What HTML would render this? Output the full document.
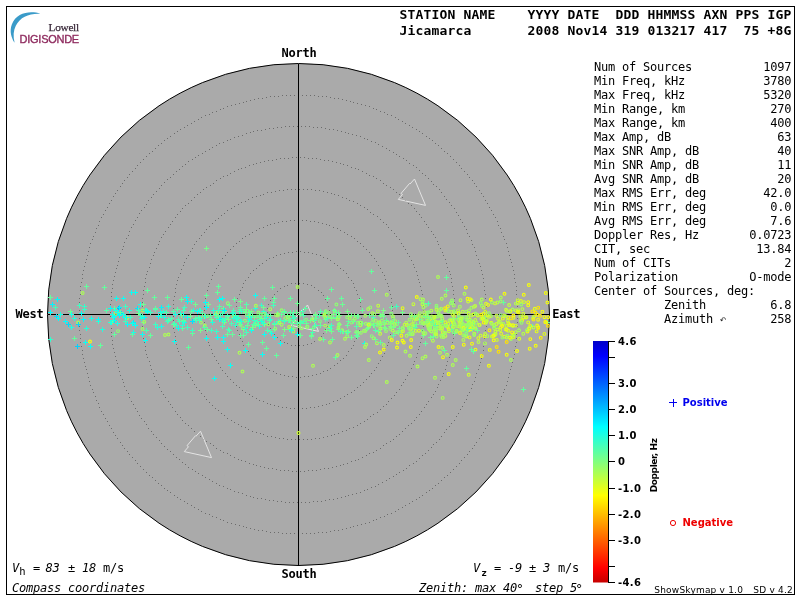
<!DOCTYPE html>
<html><head><meta charset="utf-8"><title>Skymap</title>
<style>
html,body{margin:0;padding:0;background:#fff;width:800px;height:600px;overflow:hidden}
svg{display:block;position:absolute;left:0;top:0;will-change:transform}
text{white-space:pre}
.hb{font-family:"DejaVu Sans Mono","Liberation Mono",monospace;font-weight:bold;font-size:13px;letter-spacing:0.1733px;fill:#000}
.cb{font-family:"DejaVu Sans Mono","Liberation Mono",monospace;font-weight:bold;font-size:12px;letter-spacing:-0.2246px;fill:#000}
.m{font-family:"DejaVu Sans Mono","Liberation Mono",monospace;font-size:12px;letter-spacing:-0.2246px;fill:#000}
.mi{font-family:"DejaVu Sans Mono","Liberation Mono",monospace;font-size:12px;letter-spacing:-0.2246px;fill:#000;font-style:italic}
.sb{font-family:"DejaVu Sans","Liberation Sans",sans-serif;font-weight:bold;font-size:10px;fill:#000}
.s{font-family:"DejaVu Sans","Liberation Sans",sans-serif;font-size:10px;fill:#000}
</style></head><body>
<svg width="800" height="600" viewBox="0 0 800 600" xml:space="preserve">
<defs>
<linearGradient id="cbar" gradientUnits="userSpaceOnUse" x1="0" y1="341" x2="0" y2="582">
<stop offset="0.0000" stop-color="#0000c8"/>
<stop offset="0.0622" stop-color="#0000ff"/>
<stop offset="0.3568" stop-color="#00ffff"/>
<stop offset="0.5000" stop-color="#80ff80"/>
<stop offset="0.6411" stop-color="#ffff00"/>
<stop offset="0.9419" stop-color="#ff0000"/>
<stop offset="1.0000" stop-color="#c80000"/>
</linearGradient>
</defs>
<rect x="0" y="0" width="800" height="600" fill="#fff"/>
<rect x="6.5" y="6.5" width="788" height="588" fill="none" stroke="#000" stroke-width="1" shape-rendering="crispEdges"/>
<path d="M40.4 13.7 C30 10.4 16.5 12.5 11.8 24.5 C9.3 31 11.3 38 14.6 42.8 C13.0 36 13.4 30.5 15.8 25.7 C20.3 16.8 29.3 13.1 40.4 13.7 Z" fill="#3a9bc9"/>
<text x="48.6" y="30.6" style="font-family:'Liberation Serif','DejaVu Serif',serif;font-size:11.3px;letter-spacing:-0.3px" fill="#3b2b3b" stroke="#3b2b3b" stroke-width="0.25">Lowell</text>
<text x="19.6" y="43" style="font-family:'Liberation Sans','DejaVu Sans',sans-serif;font-size:11px;letter-spacing:-0.27px" fill="#8e2a5e" stroke="#8e2a5e" stroke-width="0.35">DIGISONDE</text>
<text class="hb" x="399.6" y="19">STATION NAME    YYYY DATE  DDD HHMMSS AXN PPS IGP</text>
<text class="hb" x="399.6" y="35">Jicamarca       2008 Nov14 319 013217 417  75 +8G</text>
<circle cx="298.50" cy="314.50" r="251.00" fill="#aaaaaa" stroke="#000" stroke-width="1"/>
<path d="M329 314.5h1M329 310.5h1M328 306.5h1M327 302.5h1M325 299.5h1M323 295.5h1M321 292.5h1M318 290.5h1M314 287.5h1M311 285.5h1M307 284.5h1M303 283.5h1M299 283.5h1M295 283.5h1M291 283.5h1M287 285.5h1M284 286.5h1M280 288.5h1M277 291.5h1M274 294.5h1M272 297.5h1M270 300.5h1M268 304.5h1M267 308.5h1M267 312.5h1M267 316.5h1M267 320.5h1M268 324.5h1M270 328.5h1M272 331.5h1M274 334.5h1M277 337.5h1M280 340.5h1M284 342.5h1M287 343.5h1M291 345.5h1M295 345.5h1M299 345.5h1M303 345.5h1M307 344.5h1M311 343.5h1M314 341.5h1M318 338.5h1M321 336.5h1M323 333.5h1M325 329.5h1M327 326.5h1M328 322.5h1M329 318.5h1M361 314.5h1M361 310.5h1M360 306.5h1M360 302.5h1M359 298.5h1M357 294.5h1M356 290.5h1M354 287.5h1M353 283.5h1M351 280.5h1M348 277.5h1M346 273.5h1M343 270.5h1M340 268.5h1M337 265.5h1M334 263.5h1M330 260.5h1M327 258.5h1M323 257.5h1M320 255.5h1M316 254.5h1M312 253.5h1M308 252.5h1M304 252.5h1M300 251.5h1M296 251.5h1M292 252.5h1M288 252.5h1M284 253.5h1M280 254.5h1M276 255.5h1M273 257.5h1M269 258.5h1M266 260.5h1M262 263.5h1M259 265.5h1M256 268.5h1M253 270.5h1M250 273.5h1M248 277.5h1M245 280.5h1M243 283.5h1M242 287.5h1M240 290.5h1M239 294.5h1M237 298.5h1M236 302.5h1M236 306.5h1M235 310.5h1M235 314.5h1M235 318.5h1M236 322.5h1M236 326.5h1M237 330.5h1M239 334.5h1M240 338.5h1M242 341.5h1M243 345.5h1M245 348.5h1M248 351.5h1M250 355.5h1M253 358.5h1M256 360.5h1M259 363.5h1M262 365.5h1M266 368.5h1M269 370.5h1M273 371.5h1M276 373.5h1M280 374.5h1M284 375.5h1M288 376.5h1M292 376.5h1M296 377.5h1M300 377.5h1M304 376.5h1M308 376.5h1M312 375.5h1M316 374.5h1M320 373.5h1M323 371.5h1M327 370.5h1M330 368.5h1M334 365.5h1M337 363.5h1M340 360.5h1M343 358.5h1M346 355.5h1M348 351.5h1M351 348.5h1M353 345.5h1M354 341.5h1M356 338.5h1M357 334.5h1M359 330.5h1M360 326.5h1M360 322.5h1M361 318.5h1M392 314.5h1M392 310.5h1M392 306.5h1M391 302.5h1M391 298.5h1M390 294.5h1M389 290.5h1M388 286.5h1M387 283.5h1M385 279.5h1M384 275.5h1M382 272.5h1M380 268.5h1M378 265.5h1M376 261.5h1M374 258.5h1M371 255.5h1M369 252.5h1M366 249.5h1M363 246.5h1M360 243.5h1M357 241.5h1M354 238.5h1M351 236.5h1M347 234.5h1M344 232.5h1M340 230.5h1M337 228.5h1M333 227.5h1M329 225.5h1M326 224.5h1M322 223.5h1M318 222.5h1M314 221.5h1M310 221.5h1M306 220.5h1M302 220.5h1M298 220.5h1M294 220.5h1M290 220.5h1M286 221.5h1M282 221.5h1M278 222.5h1M274 223.5h1M270 224.5h1M267 225.5h1M263 227.5h1M259 228.5h1M256 230.5h1M252 232.5h1M249 234.5h1M245 236.5h1M242 238.5h1M239 241.5h1M236 243.5h1M233 246.5h1M230 249.5h1M227 252.5h1M225 255.5h1M222 258.5h1M220 261.5h1M218 265.5h1M216 268.5h1M214 272.5h1M212 275.5h1M211 279.5h1M209 283.5h1M208 286.5h1M207 290.5h1M206 294.5h1M205 298.5h1M205 302.5h1M204 306.5h1M204 310.5h1M204 314.5h1M204 318.5h1M204 322.5h1M205 326.5h1M205 330.5h1M206 334.5h1M207 338.5h1M208 342.5h1M209 345.5h1M211 349.5h1M212 353.5h1M214 356.5h1M216 360.5h1M218 363.5h1M220 367.5h1M222 370.5h1M225 373.5h1M227 376.5h1M230 379.5h1M233 382.5h1M236 385.5h1M239 387.5h1M242 390.5h1M245 392.5h1M249 394.5h1M252 396.5h1M256 398.5h1M259 400.5h1M263 401.5h1M267 403.5h1M270 404.5h1M274 405.5h1M278 406.5h1M282 407.5h1M286 407.5h1M290 408.5h1M294 408.5h1M298 408.5h1M302 408.5h1M306 408.5h1M310 407.5h1M314 407.5h1M318 406.5h1M322 405.5h1M326 404.5h1M329 403.5h1M333 401.5h1M337 400.5h1M340 398.5h1M344 396.5h1M347 394.5h1M351 392.5h1M354 390.5h1M357 387.5h1M360 385.5h1M363 382.5h1M366 379.5h1M369 376.5h1M371 373.5h1M374 370.5h1M376 367.5h1M378 363.5h1M380 360.5h1M382 356.5h1M384 353.5h1M385 349.5h1M387 345.5h1M388 342.5h1M389 338.5h1M390 334.5h1M391 330.5h1M391 326.5h1M392 322.5h1M392 318.5h1M423 314.5h1M423 310.5h1M423 306.5h1M423 302.5h1M422 298.5h1M422 294.5h1M421 290.5h1M420 286.5h1M419 282.5h1M418 279.5h1M417 275.5h1M416 271.5h1M414 267.5h1M413 264.5h1M411 260.5h1M409 256.5h1M407 253.5h1M405 249.5h1M403 246.5h1M401 243.5h1M399 239.5h1M396 236.5h1M394 233.5h1M391 230.5h1M388 227.5h1M386 224.5h1M383 222.5h1M380 219.5h1M377 216.5h1M373 214.5h1M370 212.5h1M367 209.5h1M364 207.5h1M360 205.5h1M357 203.5h1M353 201.5h1M349 200.5h1M346 198.5h1M342 197.5h1M338 195.5h1M334 194.5h1M331 193.5h1M327 192.5h1M323 191.5h1M319 190.5h1M315 190.5h1M311 189.5h1M307 189.5h1M303 189.5h1M299 189.5h1M295 189.5h1M291 189.5h1M287 189.5h1M283 190.5h1M279 190.5h1M275 191.5h1M271 192.5h1M267 192.5h1M263 194.5h1M260 195.5h1M256 196.5h1M252 197.5h1M248 199.5h1M245 201.5h1M241 202.5h1M238 204.5h1M234 206.5h1M231 208.5h1M227 210.5h1M224 213.5h1M221 215.5h1M218 218.5h1M215 220.5h1M212 223.5h1M209 226.5h1M206 229.5h1M204 232.5h1M201 235.5h1M199 238.5h1M196 241.5h1M194 244.5h1M192 248.5h1M190 251.5h1M188 255.5h1M186 258.5h1M184 262.5h1M183 265.5h1M181 269.5h1M180 273.5h1M178 277.5h1M177 280.5h1M176 284.5h1M175 288.5h1M175 292.5h1M174 296.5h1M173 300.5h1M173 304.5h1M173 308.5h1M173 312.5h1M173 316.5h1M173 320.5h1M173 324.5h1M173 328.5h1M174 332.5h1M175 336.5h1M175 340.5h1M176 344.5h1M177 348.5h1M178 351.5h1M180 355.5h1M181 359.5h1M183 363.5h1M184 366.5h1M186 370.5h1M188 373.5h1M190 377.5h1M192 380.5h1M194 384.5h1M196 387.5h1M199 390.5h1M201 393.5h1M204 396.5h1M206 399.5h1M209 402.5h1M212 405.5h1M215 408.5h1M218 410.5h1M221 413.5h1M224 415.5h1M227 418.5h1M231 420.5h1M234 422.5h1M238 424.5h1M241 426.5h1M245 427.5h1M248 429.5h1M252 431.5h1M256 432.5h1M260 433.5h1M263 434.5h1M267 436.5h1M271 436.5h1M275 437.5h1M279 438.5h1M283 438.5h1M287 439.5h1M291 439.5h1M295 439.5h1M299 439.5h1M303 439.5h1M307 439.5h1M311 439.5h1M315 438.5h1M319 438.5h1M323 437.5h1M327 436.5h1M331 435.5h1M334 434.5h1M338 433.5h1M342 431.5h1M346 430.5h1M349 428.5h1M353 427.5h1M357 425.5h1M360 423.5h1M364 421.5h1M367 419.5h1M370 416.5h1M373 414.5h1M377 412.5h1M380 409.5h1M383 406.5h1M386 404.5h1M388 401.5h1M391 398.5h1M394 395.5h1M396 392.5h1M399 389.5h1M401 385.5h1M403 382.5h1M405 379.5h1M407 375.5h1M409 372.5h1M411 368.5h1M413 364.5h1M414 361.5h1M416 357.5h1M417 353.5h1M418 349.5h1M419 346.5h1M420 342.5h1M421 338.5h1M422 334.5h1M422 330.5h1M423 326.5h1M423 322.5h1M423 318.5h1M455 314.5h1M455 310.5h1M454 306.5h1M454 302.5h1M454 298.5h1M453 294.5h1M453 290.5h1M452 286.5h1M451 282.5h1M451 278.5h1M450 274.5h1M449 271.5h1M447 267.5h1M446 263.5h1M445 259.5h1M443 255.5h1M442 252.5h1M440 248.5h1M438 244.5h1M437 241.5h1M435 237.5h1M433 234.5h1M431 231.5h1M428 227.5h1M426 224.5h1M424 221.5h1M421 217.5h1M419 214.5h1M416 211.5h1M414 208.5h1M411 205.5h1M408 203.5h1M405 200.5h1M402 197.5h1M399 194.5h1M396 192.5h1M393 189.5h1M390 187.5h1M386 185.5h1M383 183.5h1M380 180.5h1M376 178.5h1M373 176.5h1M369 175.5h1M366 173.5h1M362 171.5h1M358 169.5h1M355 168.5h1M351 167.5h1M347 165.5h1M343 164.5h1M340 163.5h1M336 162.5h1M332 161.5h1M328 160.5h1M324 160.5h1M320 159.5h1M316 158.5h1M312 158.5h1M308 158.5h1M304 157.5h1M300 157.5h1M296 157.5h1M292 157.5h1M288 158.5h1M284 158.5h1M280 158.5h1M276 159.5h1M272 160.5h1M268 160.5h1M264 161.5h1M260 162.5h1M256 163.5h1M253 164.5h1M249 165.5h1M245 167.5h1M241 168.5h1M238 169.5h1M234 171.5h1M230 173.5h1M227 175.5h1M223 176.5h1M220 178.5h1M216 180.5h1M213 183.5h1M210 185.5h1M206 187.5h1M203 189.5h1M200 192.5h1M197 194.5h1M194 197.5h1M191 200.5h1M188 203.5h1M185 205.5h1M182 208.5h1M180 211.5h1M177 214.5h1M175 217.5h1M172 221.5h1M170 224.5h1M168 227.5h1M165 231.5h1M163 234.5h1M161 237.5h1M159 241.5h1M158 244.5h1M156 248.5h1M154 252.5h1M153 255.5h1M151 259.5h1M150 263.5h1M149 267.5h1M147 271.5h1M146 274.5h1M145 278.5h1M145 282.5h1M144 286.5h1M143 290.5h1M143 294.5h1M142 298.5h1M142 302.5h1M142 306.5h1M141 310.5h1M141 314.5h1M141 318.5h1M142 322.5h1M142 326.5h1M142 330.5h1M143 334.5h1M143 338.5h1M144 342.5h1M145 346.5h1M145 350.5h1M146 354.5h1M147 357.5h1M149 361.5h1M150 365.5h1M151 369.5h1M153 373.5h1M154 376.5h1M156 380.5h1M158 384.5h1M159 387.5h1M161 391.5h1M163 394.5h1M165 397.5h1M168 401.5h1M170 404.5h1M172 407.5h1M175 411.5h1M177 414.5h1M180 417.5h1M182 420.5h1M185 423.5h1M188 425.5h1M191 428.5h1M194 431.5h1M197 434.5h1M200 436.5h1M203 439.5h1M206 441.5h1M210 443.5h1M213 445.5h1M216 448.5h1M220 450.5h1M223 452.5h1M227 453.5h1M230 455.5h1M234 457.5h1M238 459.5h1M241 460.5h1M245 461.5h1M249 463.5h1M253 464.5h1M256 465.5h1M260 466.5h1M264 467.5h1M268 468.5h1M272 468.5h1M276 469.5h1M280 470.5h1M284 470.5h1M288 470.5h1M292 471.5h1M296 471.5h1M300 471.5h1M304 471.5h1M308 470.5h1M312 470.5h1M316 470.5h1M320 469.5h1M324 468.5h1M328 468.5h1M332 467.5h1M336 466.5h1M340 465.5h1M343 464.5h1M347 463.5h1M351 461.5h1M355 460.5h1M358 459.5h1M362 457.5h1M366 455.5h1M369 453.5h1M373 452.5h1M376 450.5h1M380 448.5h1M383 445.5h1M386 443.5h1M390 441.5h1M393 439.5h1M396 436.5h1M399 434.5h1M402 431.5h1M405 428.5h1M408 425.5h1M411 423.5h1M414 420.5h1M416 417.5h1M419 414.5h1M421 411.5h1M424 407.5h1M426 404.5h1M428 401.5h1M431 397.5h1M433 394.5h1M435 391.5h1M437 387.5h1M438 384.5h1M440 380.5h1M442 376.5h1M443 373.5h1M445 369.5h1M446 365.5h1M447 361.5h1M449 357.5h1M450 354.5h1M451 350.5h1M451 346.5h1M452 342.5h1M453 338.5h1M453 334.5h1M454 330.5h1M454 326.5h1M454 322.5h1M455 318.5h1M486 314.5h1M486 310.5h1M486 306.5h1M486 302.5h1M485 298.5h1M485 294.5h1M484 290.5h1M484 286.5h1M483 282.5h1M483 278.5h1M482 274.5h1M481 270.5h1M480 266.5h1M479 263.5h1M478 259.5h1M476 255.5h1M475 251.5h1M474 247.5h1M472 244.5h1M471 240.5h1M469 236.5h1M467 233.5h1M466 229.5h1M464 226.5h1M462 222.5h1M460 219.5h1M458 215.5h1M456 212.5h1M454 208.5h1M451 205.5h1M449 202.5h1M446 199.5h1M444 196.5h1M441 192.5h1M439 189.5h1M436 186.5h1M433 184.5h1M431 181.5h1M428 178.5h1M425 175.5h1M422 173.5h1M419 170.5h1M416 167.5h1M413 165.5h1M409 163.5h1M406 160.5h1M403 158.5h1M399 156.5h1M396 154.5h1M393 152.5h1M389 150.5h1M386 148.5h1M382 146.5h1M378 144.5h1M375 142.5h1M371 141.5h1M367 139.5h1M364 138.5h1M360 136.5h1M356 135.5h1M352 134.5h1M348 133.5h1M345 132.5h1M341 131.5h1M337 130.5h1M333 129.5h1M329 129.5h1M325 128.5h1M321 127.5h1M317 127.5h1M313 127.5h1M309 126.5h1M305 126.5h1M301 126.5h1M297 126.5h1M293 126.5h1M289 126.5h1M285 126.5h1M281 127.5h1M277 127.5h1M273 128.5h1M269 128.5h1M265 129.5h1M261 130.5h1M257 130.5h1M253 131.5h1M250 132.5h1M246 133.5h1M242 135.5h1M238 136.5h1M234 137.5h1M230 139.5h1M227 140.5h1M223 142.5h1M219 143.5h1M216 145.5h1M212 147.5h1M209 149.5h1M205 151.5h1M202 153.5h1M198 155.5h1M195 157.5h1M192 159.5h1M188 161.5h1M185 164.5h1M182 166.5h1M179 169.5h1M176 171.5h1M173 174.5h1M170 177.5h1M167 179.5h1M164 182.5h1M161 185.5h1M159 188.5h1M156 191.5h1M153 194.5h1M151 197.5h1M148 200.5h1M146 204.5h1M144 207.5h1M141 210.5h1M139 213.5h1M137 217.5h1M135 220.5h1M133 224.5h1M131 227.5h1M129 231.5h1M128 235.5h1M126 238.5h1M124 242.5h1M123 246.5h1M122 249.5h1M120 253.5h1M119 257.5h1M118 261.5h1M117 265.5h1M116 268.5h1M115 272.5h1M114 276.5h1M113 280.5h1M112 284.5h1M112 288.5h1M111 292.5h1M111 296.5h1M111 300.5h1M110 304.5h1M110 308.5h1M110 312.5h1M110 316.5h1M110 320.5h1M110 324.5h1M111 328.5h1M111 332.5h1M111 336.5h1M112 340.5h1M112 344.5h1M113 348.5h1M114 352.5h1M115 356.5h1M116 360.5h1M117 363.5h1M118 367.5h1M119 371.5h1M120 375.5h1M122 379.5h1M123 382.5h1M124 386.5h1M126 390.5h1M128 393.5h1M129 397.5h1M131 401.5h1M133 404.5h1M135 408.5h1M137 411.5h1M139 415.5h1M141 418.5h1M144 421.5h1M146 424.5h1M148 428.5h1M151 431.5h1M153 434.5h1M156 437.5h1M159 440.5h1M161 443.5h1M164 446.5h1M167 449.5h1M170 451.5h1M173 454.5h1M176 457.5h1M179 459.5h1M182 462.5h1M185 464.5h1M188 467.5h1M192 469.5h1M195 471.5h1M198 473.5h1M202 475.5h1M205 477.5h1M209 479.5h1M212 481.5h1M216 483.5h1M219 485.5h1M223 486.5h1M227 488.5h1M230 489.5h1M234 491.5h1M238 492.5h1M242 493.5h1M246 495.5h1M250 496.5h1M253 497.5h1M257 498.5h1M261 498.5h1M265 499.5h1M269 500.5h1M273 500.5h1M277 501.5h1M281 501.5h1M285 502.5h1M289 502.5h1M293 502.5h1M297 502.5h1M301 502.5h1M305 502.5h1M309 502.5h1M313 501.5h1M317 501.5h1M321 501.5h1M325 500.5h1M329 499.5h1M333 499.5h1M337 498.5h1M341 497.5h1M345 496.5h1M348 495.5h1M352 494.5h1M356 493.5h1M360 492.5h1M364 490.5h1M367 489.5h1M371 487.5h1M375 486.5h1M378 484.5h1M382 482.5h1M386 480.5h1M389 478.5h1M393 476.5h1M396 474.5h1M399 472.5h1M403 470.5h1M406 468.5h1M409 465.5h1M413 463.5h1M416 461.5h1M419 458.5h1M422 455.5h1M425 453.5h1M428 450.5h1M431 447.5h1M433 444.5h1M436 442.5h1M439 439.5h1M441 436.5h1M444 432.5h1M446 429.5h1M449 426.5h1M451 423.5h1M454 420.5h1M456 416.5h1M458 413.5h1M460 409.5h1M462 406.5h1M464 402.5h1M466 399.5h1M467 395.5h1M469 392.5h1M471 388.5h1M472 384.5h1M474 381.5h1M475 377.5h1M476 373.5h1M478 369.5h1M479 365.5h1M480 362.5h1M481 358.5h1M482 354.5h1M483 350.5h1M483 346.5h1M484 342.5h1M484 338.5h1M485 334.5h1M485 330.5h1M486 326.5h1M486 322.5h1M486 318.5h1M517 314.5h1M517 310.5h1M517 306.5h1M517 302.5h1M517 298.5h1M516 294.5h1M516 290.5h1M516 286.5h1M515 282.5h1M514 278.5h1M514 274.5h1M513 270.5h1M512 266.5h1M511 262.5h1M510 259.5h1M509 255.5h1M508 251.5h1M507 247.5h1M506 243.5h1M504 239.5h1M503 236.5h1M501 232.5h1M500 228.5h1M498 225.5h1M497 221.5h1M495 217.5h1M493 214.5h1M491 210.5h1M489 207.5h1M487 203.5h1M485 200.5h1M483 196.5h1M481 193.5h1M479 190.5h1M476 186.5h1M474 183.5h1M472 180.5h1M469 177.5h1M467 174.5h1M464 171.5h1M461 168.5h1M459 165.5h1M456 162.5h1M453 159.5h1M450 156.5h1M447 153.5h1M444 151.5h1M441 148.5h1M438 145.5h1M435 143.5h1M432 140.5h1M429 138.5h1M426 136.5h1M422 133.5h1M419 131.5h1M416 129.5h1M412 127.5h1M409 125.5h1M405 123.5h1M402 121.5h1M398 119.5h1M395 117.5h1M391 115.5h1M387 114.5h1M384 112.5h1M380 111.5h1M376 109.5h1M373 108.5h1M369 106.5h1M365 105.5h1M361 104.5h1M357 103.5h1M353 102.5h1M350 101.5h1M346 100.5h1M342 99.5h1M338 98.5h1M334 98.5h1M330 97.5h1M326 96.5h1M322 96.5h1M318 96.5h1M314 95.5h1M310 95.5h1M306 95.5h1M302 95.5h1M298 95.5h1M294 95.5h1M290 95.5h1M286 95.5h1M282 95.5h1M278 96.5h1M274 96.5h1M270 96.5h1M266 97.5h1M262 98.5h1M258 98.5h1M254 99.5h1M250 100.5h1M246 101.5h1M243 102.5h1M239 103.5h1M235 104.5h1M231 105.5h1M227 106.5h1M223 108.5h1M220 109.5h1M216 111.5h1M212 112.5h1M209 114.5h1M205 115.5h1M201 117.5h1M198 119.5h1M194 121.5h1M191 123.5h1M187 125.5h1M184 127.5h1M180 129.5h1M177 131.5h1M174 133.5h1M170 136.5h1M167 138.5h1M164 140.5h1M161 143.5h1M158 145.5h1M155 148.5h1M152 151.5h1M149 153.5h1M146 156.5h1M143 159.5h1M140 162.5h1M137 165.5h1M135 168.5h1M132 171.5h1M129 174.5h1M127 177.5h1M124 180.5h1M122 183.5h1M120 186.5h1M117 190.5h1M115 193.5h1M113 196.5h1M111 200.5h1M109 203.5h1M107 207.5h1M105 210.5h1M103 214.5h1M101 217.5h1M99 221.5h1M98 225.5h1M96 228.5h1M95 232.5h1M93 236.5h1M92 239.5h1M90 243.5h1M89 247.5h1M88 251.5h1M87 255.5h1M86 259.5h1M85 262.5h1M84 266.5h1M83 270.5h1M82 274.5h1M82 278.5h1M81 282.5h1M80 286.5h1M80 290.5h1M80 294.5h1M79 298.5h1M79 302.5h1M79 306.5h1M79 310.5h1M79 314.5h1M79 318.5h1M79 322.5h1M79 326.5h1M79 330.5h1M80 334.5h1M80 338.5h1M80 342.5h1M81 346.5h1M82 350.5h1M82 354.5h1M83 358.5h1M84 362.5h1M85 366.5h1M86 369.5h1M87 373.5h1M88 377.5h1M89 381.5h1M90 385.5h1M92 389.5h1M93 392.5h1M95 396.5h1M96 400.5h1M98 403.5h1M99 407.5h1M101 411.5h1M103 414.5h1M105 418.5h1M107 421.5h1M109 425.5h1M111 428.5h1M113 432.5h1M115 435.5h1M117 438.5h1M120 442.5h1M122 445.5h1M124 448.5h1M127 451.5h1M129 454.5h1M132 457.5h1M135 460.5h1M137 463.5h1M140 466.5h1M143 469.5h1M146 472.5h1M149 475.5h1M152 477.5h1M155 480.5h1M158 483.5h1M161 485.5h1M164 488.5h1M167 490.5h1M170 492.5h1M174 495.5h1M177 497.5h1M180 499.5h1M184 501.5h1M187 503.5h1M191 505.5h1M194 507.5h1M198 509.5h1M201 511.5h1M205 513.5h1M209 514.5h1M212 516.5h1M216 517.5h1M220 519.5h1M223 520.5h1M227 522.5h1M231 523.5h1M235 524.5h1M239 525.5h1M243 526.5h1M246 527.5h1M250 528.5h1M254 529.5h1M258 530.5h1M262 530.5h1M266 531.5h1M270 532.5h1M274 532.5h1M278 532.5h1M282 533.5h1M286 533.5h1M290 533.5h1M294 533.5h1M298 533.5h1M302 533.5h1M306 533.5h1M310 533.5h1M314 533.5h1M318 532.5h1M322 532.5h1M326 532.5h1M330 531.5h1M334 530.5h1M338 530.5h1M342 529.5h1M346 528.5h1M350 527.5h1M353 526.5h1M357 525.5h1M361 524.5h1M365 523.5h1M369 522.5h1M373 520.5h1M376 519.5h1M380 517.5h1M384 516.5h1M387 514.5h1M391 513.5h1M395 511.5h1M398 509.5h1M402 507.5h1M405 505.5h1M409 503.5h1M412 501.5h1M416 499.5h1M419 497.5h1M422 495.5h1M426 492.5h1M429 490.5h1M432 488.5h1M435 485.5h1M438 483.5h1M441 480.5h1M444 477.5h1M447 475.5h1M450 472.5h1M453 469.5h1M456 466.5h1M459 463.5h1M461 460.5h1M464 457.5h1M467 454.5h1M469 451.5h1M472 448.5h1M474 445.5h1M476 442.5h1M479 438.5h1M481 435.5h1M483 432.5h1M485 428.5h1M487 425.5h1M489 421.5h1M491 418.5h1M493 414.5h1M495 411.5h1M497 407.5h1M498 403.5h1M500 400.5h1M501 396.5h1M503 392.5h1M504 389.5h1M506 385.5h1M507 381.5h1M508 377.5h1M509 373.5h1M510 369.5h1M511 366.5h1M512 362.5h1M513 358.5h1M514 354.5h1M514 350.5h1M515 346.5h1M516 342.5h1M516 338.5h1M516 334.5h1M517 330.5h1M517 326.5h1M517 322.5h1M517 318.5h1" stroke="#6c6c6c" stroke-width="1" fill="none" shape-rendering="crispEdges"/>
<path transform="translate(414.5 179.0)" d="M0 0 L-4.5 5 L-5 4.5 L-13.5 14.5 L-12 15.5 L-16.2 20.4 L11 26.4 Z" fill="none" stroke="#e4e4e4" stroke-width="1"/>
<path transform="translate(200.5 431.2)" d="M0 0 L-4.5 5 L-5 4.5 L-13.5 14.5 L-12 15.5 L-16.2 20.4 L11 26.4 Z" fill="none" stroke="#e4e4e4" stroke-width="1"/>
<path transform="translate(307.5 305.0)" d="M0 0 L-4.5 5 L-5 4.5 L-13.5 14.5 L-12 15.5 L-16.2 20.4 L11 26.4 Z" fill="none" stroke="#e4e4e4" stroke-width="1"/>
<g stroke="#000" stroke-width="1" shape-rendering="crispEdges"><line x1="298.5" y1="63.5" x2="298.5" y2="565.5"/><line x1="47.5" y1="314.5" x2="549.5" y2="314.5"/></g>
<g fill="none" stroke-width="1">
<circle cx="453.9" cy="311.3" r="1.4" stroke="#86ff7a" stroke-width="1.1"/>
<circle cx="403.8" cy="342.5" r="1.4" stroke="#f5ff0a" stroke-width="1.1"/>
<circle cx="227.8" cy="303.2" r="1.4" stroke="#91ff6f" stroke-width="1.1"/>
<circle cx="470.7" cy="329.6" r="1.4" stroke="#beff41" stroke-width="1.1"/>
<circle cx="370.2" cy="307.4" r="1.4" stroke="#93ff6d" stroke-width="1.1"/>
<path d="M137.0 313.5h5M139.5 311.0v5" stroke="#46ffba"/>
<path d="M286.0 320.5h5M288.5 318.0v5" stroke="#49ffb6"/>
<path d="M269.0 333.5h5M271.5 331.0v5" stroke="#0bfff4"/>
<circle cx="78.1" cy="322.5" r="1.4" stroke="#a4ff5c" stroke-width="1.1"/>
<circle cx="453.9" cy="322.6" r="1.4" stroke="#a4ff5c" stroke-width="1.1"/>
<circle cx="503.1" cy="323.7" r="1.4" stroke="#a6ff5a" stroke-width="1.1"/>
<circle cx="504.2" cy="336.6" r="1.4" stroke="#f0ff0f" stroke-width="1.1"/>
<path d="M191.0 310.5h5M193.5 308.0v5" stroke="#23ffdc"/>
<circle cx="485.6" cy="315.5" r="1.4" stroke="#bbff44" stroke-width="1.1"/>
<circle cx="473.6" cy="323.6" r="1.4" stroke="#bdff42" stroke-width="1.1"/>
<circle cx="515.7" cy="332.2" r="1.4" stroke="#baff45" stroke-width="1.1"/>
<circle cx="497.4" cy="302.5" r="1.4" stroke="#b2ff4d" stroke-width="1.1"/>
<path d="M355.0 316.5h5M357.5 314.0v5" stroke="#5bffa4"/>
<path d="M372.0 290.5h5M374.5 288.0v5" stroke="#63ff9d"/>
<circle cx="434.6" cy="334.3" r="1.4" stroke="#aaff56" stroke-width="1.1"/>
<path d="M365.0 328.5h5M367.5 326.0v5" stroke="#71ff8f"/>
<circle cx="463.4" cy="325.3" r="1.4" stroke="#b9ff47" stroke-width="1.1"/>
<circle cx="301.1" cy="321.9" r="1.4" stroke="#86ff7a" stroke-width="1.1"/>
<path d="M159.0 307.5h5M161.5 305.0v5" stroke="#00f3ff"/>
<path d="M421.0 303.5h5M423.5 301.0v5" stroke="#62ff9e"/>
<circle cx="449.4" cy="320.4" r="1.4" stroke="#b4ff4c" stroke-width="1.1"/>
<circle cx="442.2" cy="347.8" r="1.4" stroke="#acff54" stroke-width="1.1"/>
<circle cx="491.0" cy="316.0" r="1.4" stroke="#a6ff59" stroke-width="1.1"/>
<path d="M96.0 321.5h5M98.5 319.0v5" stroke="#32ffcd"/>
<path d="M158.0 312.5h5M160.5 310.0v5" stroke="#19ffe6"/>
<circle cx="452.0" cy="300.4" r="1.4" stroke="#96ff6a" stroke-width="1.1"/>
<path d="M275.0 313.5h5M277.5 311.0v5" stroke="#43ffbc"/>
<circle cx="456.5" cy="330.6" r="1.4" stroke="#baff45" stroke-width="1.1"/>
<circle cx="443.0" cy="357.2" r="1.4" stroke="#f5ff0a" stroke-width="1.1"/>
<circle cx="456.7" cy="331.5" r="1.4" stroke="#a1ff5e" stroke-width="1.1"/>
<circle cx="313.0" cy="365.8" r="1.4" stroke="#acff54" stroke-width="1.1"/>
<circle cx="452.8" cy="365.0" r="1.4" stroke="#acff54" stroke-width="1.1"/>
<path d="M119.0 313.5h5M121.5 311.0v5" stroke="#00daff"/>
<path d="M250.0 315.5h5M252.5 313.0v5" stroke="#65ff9b"/>
<path d="M336.0 329.5h5M338.5 327.0v5" stroke="#7bff85"/>
<circle cx="447.7" cy="326.9" r="1.4" stroke="#eaff16" stroke-width="1.1"/>
<path d="M456.0 318.5h5M458.5 316.0v5" stroke="#4affb5"/>
<path d="M441.0 334.5h5M443.5 332.0v5" stroke="#5fffa0"/>
<circle cx="278.2" cy="314.4" r="1.4" stroke="#99ff67" stroke-width="1.1"/>
<path d="M63.0 321.5h5M65.5 319.0v5" stroke="#00feff"/>
<circle cx="466.5" cy="336.5" r="1.4" stroke="#e0ff20" stroke-width="1.1"/>
<circle cx="360.3" cy="325.2" r="1.4" stroke="#b2ff4d" stroke-width="1.1"/>
<circle cx="467.5" cy="324.7" r="1.4" stroke="#bcff43" stroke-width="1.1"/>
<path d="M288.0 320.5h5M290.5 318.0v5" stroke="#56ffaa"/>
<circle cx="518.3" cy="310.1" r="1.4" stroke="#baff46" stroke-width="1.1"/>
<circle cx="435.5" cy="316.8" r="1.4" stroke="#c2ff3d" stroke-width="1.1"/>
<circle cx="485.6" cy="322.9" r="1.4" stroke="#c4ff3b" stroke-width="1.1"/>
<circle cx="450.9" cy="319.5" r="1.4" stroke="#9eff62" stroke-width="1.1"/>
<path d="M123.0 321.5h5M125.5 319.0v5" stroke="#3fffc0"/>
<path d="M329.0 318.5h5M331.5 316.0v5" stroke="#7cff84"/>
<circle cx="526.5" cy="317.2" r="1.4" stroke="#c6ff39" stroke-width="1.1"/>
<path d="M545.0 322.5h5M547.5 320.0v5" stroke="#63ff9d"/>
<path d="M394.0 306.5h5M396.5 304.0v5" stroke="#41ffbe"/>
<path d="M501.0 302.5h5M503.5 300.0v5" stroke="#61ff9f"/>
<path d="M221.0 308.5h5M223.5 306.0v5" stroke="#71ff8f"/>
<circle cx="488.0" cy="304.9" r="1.4" stroke="#f2ff0d" stroke-width="1.1"/>
<circle cx="546.1" cy="322.4" r="1.4" stroke="#f4ff0b" stroke-width="1.1"/>
<path d="M172.0 324.5h5M174.5 322.0v5" stroke="#74ff8c"/>
<circle cx="518.6" cy="312.3" r="1.4" stroke="#ffef00" stroke-width="1.1"/>
<circle cx="463.8" cy="344.7" r="1.4" stroke="#f5ff0a" stroke-width="1.1"/>
<path d="M165.0 297.5h5M167.5 295.0v5" stroke="#63ff9d"/>
<circle cx="377.0" cy="343.2" r="1.4" stroke="#acff54" stroke-width="1.1"/>
<circle cx="472.4" cy="326.1" r="1.4" stroke="#bfff40" stroke-width="1.1"/>
<circle cx="436.5" cy="305.7" r="1.4" stroke="#90ff70" stroke-width="1.1"/>
<circle cx="457.6" cy="326.4" r="1.4" stroke="#96ff69" stroke-width="1.1"/>
<path d="M236.0 317.5h5M238.5 315.0v5" stroke="#49ffb7"/>
<path d="M354.0 332.5h5M356.5 330.0v5" stroke="#76ff8a"/>
<path d="M327.0 328.5h5M329.5 326.0v5" stroke="#57ffa9"/>
<path d="M253.0 323.5h5M255.5 321.0v5" stroke="#66ff9a"/>
<path d="M341.0 331.5h5M343.5 329.0v5" stroke="#47ffb9"/>
<circle cx="401.4" cy="331.7" r="1.4" stroke="#97ff69" stroke-width="1.1"/>
<circle cx="462.7" cy="318.3" r="1.4" stroke="#98ff67" stroke-width="1.1"/>
<circle cx="519.0" cy="330.3" r="1.4" stroke="#a5ff5b" stroke-width="1.1"/>
<path d="M214.0 317.5h5M216.5 315.0v5" stroke="#4dffb2"/>
<circle cx="412.0" cy="324.3" r="1.4" stroke="#c7ff38" stroke-width="1.1"/>
<circle cx="502.4" cy="337.6" r="1.4" stroke="#95ff6b" stroke-width="1.1"/>
<circle cx="468.0" cy="329.3" r="1.4" stroke="#8dff73" stroke-width="1.1"/>
<path d="M50.0 304.5h5M52.5 302.0v5" stroke="#00f5ff"/>
<path d="M381.0 316.5h5M383.5 314.0v5" stroke="#6dff92"/>
<circle cx="534.1" cy="316.4" r="1.4" stroke="#dbff24" stroke-width="1.1"/>
<path d="M192.0 320.5h5M194.5 318.0v5" stroke="#24ffdb"/>
<path d="M228.0 365.5h5M230.5 363.0v5" stroke="#0bfff4"/>
<circle cx="422.4" cy="304.2" r="1.4" stroke="#c7ff39" stroke-width="1.1"/>
<path d="M79.0 313.5h5M81.5 311.0v5" stroke="#07fff8"/>
<path d="M182.0 322.5h5M184.5 320.0v5" stroke="#15ffea"/>
<circle cx="475.3" cy="319.9" r="1.4" stroke="#c5ff3a" stroke-width="1.1"/>
<circle cx="469.8" cy="325.2" r="1.4" stroke="#d2ff2d" stroke-width="1.1"/>
<path d="M468.0 322.5h5M470.5 320.0v5" stroke="#6eff92"/>
<path d="M220.0 326.5h5M222.5 324.0v5" stroke="#43ffbc"/>
<path d="M381.0 310.5h5M383.5 308.0v5" stroke="#7cff84"/>
<circle cx="288.5" cy="317.6" r="1.4" stroke="#b0ff4f" stroke-width="1.1"/>
<path d="M156.0 316.5h5M158.5 314.0v5" stroke="#01fffe"/>
<path d="M264.0 314.5h5M266.5 312.0v5" stroke="#41ffbe"/>
<path d="M186.0 347.5h5M188.5 345.0v5" stroke="#63ff9d"/>
<circle cx="406.2" cy="322.6" r="1.4" stroke="#afff50" stroke-width="1.1"/>
<path d="M237.0 311.5h5M239.5 309.0v5" stroke="#4dffb3"/>
<path d="M388.0 322.5h5M390.5 320.0v5" stroke="#6eff92"/>
<path d="M287.0 329.5h5M289.5 327.0v5" stroke="#6aff96"/>
<path d="M54.0 316.5h5M56.5 314.0v5" stroke="#00dfff"/>
<circle cx="417.5" cy="366.5" r="1.4" stroke="#acff54" stroke-width="1.1"/>
<circle cx="440.5" cy="326.5" r="1.4" stroke="#daff25" stroke-width="1.1"/>
<circle cx="277.8" cy="314.1" r="1.4" stroke="#9dff63" stroke-width="1.1"/>
<circle cx="454.2" cy="324.3" r="1.4" stroke="#c7ff39" stroke-width="1.1"/>
<circle cx="483.7" cy="319.6" r="1.4" stroke="#dfff20" stroke-width="1.1"/>
<circle cx="468.1" cy="301.5" r="1.4" stroke="#c8ff38" stroke-width="1.1"/>
<circle cx="434.8" cy="321.5" r="1.4" stroke="#b4ff4b" stroke-width="1.1"/>
<circle cx="389.8" cy="337.6" r="1.4" stroke="#aeff51" stroke-width="1.1"/>
<path d="M352.0 315.5h5M354.5 313.0v5" stroke="#7fff81"/>
<path d="M323.0 312.5h5M325.5 310.0v5" stroke="#5fffa1"/>
<circle cx="397.2" cy="324.0" r="1.4" stroke="#8cff74" stroke-width="1.1"/>
<circle cx="523.3" cy="313.7" r="1.4" stroke="#d4ff2c" stroke-width="1.1"/>
<circle cx="472.0" cy="343.7" r="1.4" stroke="#f5ff0a" stroke-width="1.1"/>
<path d="M427.0 322.5h5M429.5 320.0v5" stroke="#7aff86"/>
<circle cx="494.1" cy="328.0" r="1.4" stroke="#b2ff4e" stroke-width="1.1"/>
<path d="M318.0 311.5h5M320.5 309.0v5" stroke="#52ffae"/>
<circle cx="481.3" cy="316.4" r="1.4" stroke="#c0ff3f" stroke-width="1.1"/>
<circle cx="386.0" cy="331.1" r="1.4" stroke="#9aff66" stroke-width="1.1"/>
<path d="M221.0 341.5h5M223.5 339.0v5" stroke="#0bfff4"/>
<circle cx="433.4" cy="321.0" r="1.4" stroke="#b6ff49" stroke-width="1.1"/>
<circle cx="513.5" cy="317.7" r="1.4" stroke="#d9ff27" stroke-width="1.1"/>
<circle cx="538.3" cy="327.1" r="1.4" stroke="#e1ff1e" stroke-width="1.1"/>
<circle cx="462.8" cy="327.6" r="1.4" stroke="#afff50" stroke-width="1.1"/>
<path d="M444.0 290.5h5M446.5 288.0v5" stroke="#63ff9d"/>
<circle cx="422.1" cy="322.0" r="1.4" stroke="#bbff45" stroke-width="1.1"/>
<path d="M133.0 292.5h5M135.5 290.0v5" stroke="#0bfff4"/>
<circle cx="530.3" cy="339.1" r="1.4" stroke="#ffff00" stroke-width="1.1"/>
<path d="M323.0 319.5h5M325.5 317.0v5" stroke="#58ffa8"/>
<path d="M324.0 330.5h5M326.5 328.0v5" stroke="#75ff8a"/>
<path d="M198.0 310.5h5M200.5 308.0v5" stroke="#44ffbc"/>
<path d="M378.0 324.5h5M380.5 322.0v5" stroke="#71ff8f"/>
<path d="M330.0 339.5h5M332.5 337.0v5" stroke="#63ff9d"/>
<circle cx="496.7" cy="347.0" r="1.4" stroke="#ffe300" stroke-width="1.1"/>
<circle cx="360.9" cy="332.7" r="1.4" stroke="#9bff65" stroke-width="1.1"/>
<circle cx="422.6" cy="317.8" r="1.4" stroke="#a3ff5d" stroke-width="1.1"/>
<circle cx="500.3" cy="330.1" r="1.4" stroke="#d1ff2e" stroke-width="1.1"/>
<circle cx="442.7" cy="397.9" r="1.4" stroke="#acff54" stroke-width="1.1"/>
<path d="M314.0 318.5h5M316.5 316.0v5" stroke="#62ff9e"/>
<path d="M380.0 314.5h5M382.5 312.0v5" stroke="#77ff89"/>
<path d="M166.0 306.5h5M168.5 304.0v5" stroke="#27ffd9"/>
<circle cx="508.4" cy="323.3" r="1.4" stroke="#fffa00" stroke-width="1.1"/>
<circle cx="507.6" cy="320.7" r="1.4" stroke="#c3ff3d" stroke-width="1.1"/>
<circle cx="447.0" cy="354.8" r="1.4" stroke="#acff54" stroke-width="1.1"/>
<circle cx="466.6" cy="325.0" r="1.4" stroke="#aaff56" stroke-width="1.1"/>
<path d="M233.0 315.5h5M235.5 313.0v5" stroke="#5dffa3"/>
<circle cx="415.5" cy="319.1" r="1.4" stroke="#afff51" stroke-width="1.1"/>
<circle cx="538.2" cy="307.7" r="1.4" stroke="#ffe700" stroke-width="1.1"/>
<circle cx="406.8" cy="325.0" r="1.4" stroke="#e2ff1d" stroke-width="1.1"/>
<circle cx="434.5" cy="317.4" r="1.4" stroke="#a9ff57" stroke-width="1.1"/>
<path d="M421.0 335.5h5M423.5 333.0v5" stroke="#76ff8a"/>
<circle cx="532.4" cy="311.4" r="1.4" stroke="#ffe500" stroke-width="1.1"/>
<circle cx="410.3" cy="329.9" r="1.4" stroke="#a1ff5e" stroke-width="1.1"/>
<path d="M155.0 327.5h5M157.5 325.0v5" stroke="#27ffd8"/>
<circle cx="468.6" cy="330.4" r="1.4" stroke="#c9ff36" stroke-width="1.1"/>
<path d="M174.0 325.5h5M176.5 323.0v5" stroke="#39ffc7"/>
<circle cx="428.2" cy="322.5" r="1.4" stroke="#d3ff2d" stroke-width="1.1"/>
<path d="M223.0 318.5h5M225.5 316.0v5" stroke="#44ffbb"/>
<circle cx="471.4" cy="307.8" r="1.4" stroke="#a0ff60" stroke-width="1.1"/>
<circle cx="500.6" cy="327.3" r="1.4" stroke="#deff22" stroke-width="1.1"/>
<path d="M238.0 307.5h5M240.5 305.0v5" stroke="#67ff99"/>
<circle cx="458.1" cy="313.2" r="1.4" stroke="#c8ff37" stroke-width="1.1"/>
<circle cx="441.1" cy="316.1" r="1.4" stroke="#8fff71" stroke-width="1.1"/>
<circle cx="446.7" cy="309.7" r="1.4" stroke="#b3ff4d" stroke-width="1.1"/>
<circle cx="519.3" cy="338.8" r="1.4" stroke="#d4ff2b" stroke-width="1.1"/>
<path d="M377.0 323.5h5M379.5 321.0v5" stroke="#7dff83"/>
<circle cx="413.3" cy="330.3" r="1.4" stroke="#81ff7f" stroke-width="1.1"/>
<path d="M246.0 321.5h5M248.5 319.0v5" stroke="#54ffab"/>
<path d="M140.0 316.5h5M142.5 314.0v5" stroke="#58ffa8"/>
<circle cx="414.6" cy="326.8" r="1.4" stroke="#9dff63" stroke-width="1.1"/>
<path d="M253.0 325.5h5M255.5 323.0v5" stroke="#77ff89"/>
<path d="M384.0 320.5h5M386.5 318.0v5" stroke="#63ff9c"/>
<circle cx="506.5" cy="325.9" r="1.4" stroke="#c4ff3c" stroke-width="1.1"/>
<path d="M233.0 325.5h5M235.5 323.0v5" stroke="#34ffcb"/>
<path d="M222.0 322.5h5M224.5 320.0v5" stroke="#79ff87"/>
<circle cx="460.6" cy="320.9" r="1.4" stroke="#87ff79" stroke-width="1.1"/>
<circle cx="347.2" cy="336.2" r="1.4" stroke="#95ff6b" stroke-width="1.1"/>
<path d="M48.0 297.5h5M50.5 295.0v5" stroke="#63ff9d"/>
<path d="M193.0 304.5h5M195.5 302.0v5" stroke="#70ff90"/>
<circle cx="330.0" cy="317.0" r="1.4" stroke="#95ff6b" stroke-width="1.1"/>
<path d="M373.0 330.5h5M375.5 328.0v5" stroke="#54ffac"/>
<circle cx="351.3" cy="322.6" r="1.4" stroke="#91ff6f" stroke-width="1.1"/>
<circle cx="504.5" cy="293.8" r="1.4" stroke="#f5ff0a" stroke-width="1.1"/>
<path d="M215.0 292.5h5M217.5 290.0v5" stroke="#63ff9d"/>
<path d="M204.0 338.5h5M206.5 336.0v5" stroke="#0bfff4"/>
<circle cx="493.7" cy="340.3" r="1.4" stroke="#f9ff06" stroke-width="1.1"/>
<circle cx="278.1" cy="322.8" r="1.4" stroke="#98ff68" stroke-width="1.1"/>
<circle cx="540.1" cy="315.8" r="1.4" stroke="#ffea00" stroke-width="1.1"/>
<circle cx="463.3" cy="335.3" r="1.4" stroke="#a6ff5a" stroke-width="1.1"/>
<path d="M358.0 299.5h5M360.5 297.0v5" stroke="#63ff9d"/>
<circle cx="445.4" cy="335.9" r="1.4" stroke="#c0ff40" stroke-width="1.1"/>
<circle cx="435.0" cy="377.8" r="1.4" stroke="#acff54" stroke-width="1.1"/>
<path d="M204.0 307.5h5M206.5 305.0v5" stroke="#00fcff"/>
<path d="M272.0 337.5h5M274.5 335.0v5" stroke="#0bfff4"/>
<path d="M245.0 325.5h5M247.5 323.0v5" stroke="#68ff98"/>
<circle cx="474.3" cy="333.7" r="1.4" stroke="#c6ff3a" stroke-width="1.1"/>
<path d="M354.0 326.5h5M356.5 324.0v5" stroke="#54ffab"/>
<path d="M141.0 322.5h5M143.5 320.0v5" stroke="#6bff94"/>
<circle cx="372.4" cy="313.3" r="1.4" stroke="#adff52" stroke-width="1.1"/>
<circle cx="520.9" cy="301.0" r="1.4" stroke="#e0ff1f" stroke-width="1.1"/>
<path d="M285.0 315.5h5M287.5 313.0v5" stroke="#6cff93"/>
<circle cx="293.4" cy="331.5" r="1.4" stroke="#9cff64" stroke-width="1.1"/>
<path d="M184.0 297.5h5M186.5 295.0v5" stroke="#0bfff4"/>
<circle cx="545.8" cy="293.0" r="1.4" stroke="#f5ff0a" stroke-width="1.1"/>
<path d="M272.0 324.5h5M274.5 322.0v5" stroke="#73ff8c"/>
<path d="M259.0 318.5h5M261.5 316.0v5" stroke="#54ffab"/>
<circle cx="434.2" cy="324.6" r="1.4" stroke="#a1ff5e" stroke-width="1.1"/>
<circle cx="481.3" cy="314.6" r="1.4" stroke="#fff900" stroke-width="1.1"/>
<path d="M259.0 305.5h5M261.5 303.0v5" stroke="#34ffcb"/>
<circle cx="488.9" cy="365.8" r="1.4" stroke="#f5ff0a" stroke-width="1.1"/>
<circle cx="337.5" cy="355.0" r="1.4" stroke="#acff54" stroke-width="1.1"/>
<circle cx="547.9" cy="325.8" r="1.4" stroke="#ffe400" stroke-width="1.1"/>
<circle cx="380.0" cy="352.5" r="1.4" stroke="#f5ff0a" stroke-width="1.1"/>
<path d="M214.0 331.5h5M216.5 329.0v5" stroke="#35ffca"/>
<path d="M449.0 325.5h5M451.5 323.0v5" stroke="#49ffb6"/>
<path d="M333.0 357.5h5M335.5 355.0v5" stroke="#63ff9d"/>
<circle cx="266.2" cy="316.5" r="1.4" stroke="#94ff6c" stroke-width="1.1"/>
<circle cx="482.8" cy="318.4" r="1.4" stroke="#f5ff0a" stroke-width="1.1"/>
<circle cx="439.9" cy="309.8" r="1.4" stroke="#a2ff5e" stroke-width="1.1"/>
<path d="M367.0 315.5h5M369.5 313.0v5" stroke="#6aff96"/>
<circle cx="454.2" cy="312.1" r="1.4" stroke="#a7ff59" stroke-width="1.1"/>
<path d="M138.0 304.5h5M140.5 302.0v5" stroke="#19ffe6"/>
<circle cx="496.8" cy="339.9" r="1.4" stroke="#d3ff2c" stroke-width="1.1"/>
<circle cx="484.7" cy="336.3" r="1.4" stroke="#ebff14" stroke-width="1.1"/>
<circle cx="329.5" cy="326.2" r="1.4" stroke="#a3ff5d" stroke-width="1.1"/>
<path d="M339.0 298.5h5M341.5 296.0v5" stroke="#63ff9d"/>
<circle cx="537.5" cy="314.9" r="1.4" stroke="#fff700" stroke-width="1.1"/>
<path d="M247.0 312.5h5M249.5 310.0v5" stroke="#52ffae"/>
<circle cx="276.0" cy="315.1" r="1.4" stroke="#a0ff5f" stroke-width="1.1"/>
<path d="M113.0 310.5h5M115.5 308.0v5" stroke="#00e6ff"/>
<circle cx="469.8" cy="319.8" r="1.4" stroke="#cfff31" stroke-width="1.1"/>
<path d="M378.0 315.5h5M380.5 313.0v5" stroke="#67ff99"/>
<circle cx="257.0" cy="316.5" r="1.4" stroke="#81ff7f" stroke-width="1.1"/>
<circle cx="404.6" cy="324.6" r="1.4" stroke="#bfff41" stroke-width="1.1"/>
<circle cx="346.9" cy="332.0" r="1.4" stroke="#8fff70" stroke-width="1.1"/>
<circle cx="523.4" cy="317.5" r="1.4" stroke="#dcff23" stroke-width="1.1"/>
<path d="M217.0 319.5h5M219.5 317.0v5" stroke="#0ffff1"/>
<path d="M114.0 298.5h5M116.5 296.0v5" stroke="#0bfff4"/>
<circle cx="501.6" cy="324.4" r="1.4" stroke="#c1ff3e" stroke-width="1.1"/>
<path d="M289.0 329.5h5M291.5 327.0v5" stroke="#41ffbf"/>
<path d="M48.0 312.5h5M50.5 310.0v5" stroke="#00feff"/>
<path d="M378.0 329.5h5M380.5 327.0v5" stroke="#6dff93"/>
<circle cx="325.2" cy="325.6" r="1.4" stroke="#abff55" stroke-width="1.1"/>
<circle cx="461.2" cy="322.4" r="1.4" stroke="#a4ff5b" stroke-width="1.1"/>
<circle cx="434.9" cy="329.5" r="1.4" stroke="#bfff40" stroke-width="1.1"/>
<path d="M465.0 320.5h5M467.5 318.0v5" stroke="#7dff83"/>
<circle cx="459.9" cy="306.7" r="1.4" stroke="#a5ff5b" stroke-width="1.1"/>
<path d="M329.0 289.5h5M331.5 287.0v5" stroke="#63ff9d"/>
<path d="M225.0 315.5h5M227.5 313.0v5" stroke="#36ffca"/>
<circle cx="391.8" cy="322.2" r="1.4" stroke="#95ff6b" stroke-width="1.1"/>
<circle cx="487.5" cy="315.4" r="1.4" stroke="#e1ff1e" stroke-width="1.1"/>
<path d="M246.0 312.5h5M248.5 310.0v5" stroke="#78ff88"/>
<circle cx="434.1" cy="317.0" r="1.4" stroke="#cdff32" stroke-width="1.1"/>
<circle cx="512.6" cy="309.5" r="1.4" stroke="#a8ff58" stroke-width="1.1"/>
<circle cx="200.2" cy="317.9" r="1.4" stroke="#9fff60" stroke-width="1.1"/>
<circle cx="510.9" cy="339.1" r="1.4" stroke="#9dff63" stroke-width="1.1"/>
<circle cx="395.1" cy="332.4" r="1.4" stroke="#93ff6d" stroke-width="1.1"/>
<circle cx="413.4" cy="304.2" r="1.4" stroke="#c7ff39" stroke-width="1.1"/>
<circle cx="427.4" cy="316.2" r="1.4" stroke="#a6ff5a" stroke-width="1.1"/>
<path d="M129.0 292.5h5M131.5 290.0v5" stroke="#0bfff4"/>
<path d="M218.0 318.5h5M220.5 316.0v5" stroke="#00f5ff"/>
<path d="M249.0 329.5h5M251.5 327.0v5" stroke="#63ff9d"/>
<path d="M378.0 342.5h5M380.5 340.0v5" stroke="#63ff9d"/>
<circle cx="478.3" cy="338.1" r="1.4" stroke="#e0ff1f" stroke-width="1.1"/>
<circle cx="438.6" cy="323.0" r="1.4" stroke="#9eff61" stroke-width="1.1"/>
<path d="M246.0 344.5h5M248.5 342.0v5" stroke="#63ff9d"/>
<circle cx="471.1" cy="320.7" r="1.4" stroke="#8aff76" stroke-width="1.1"/>
<circle cx="466.2" cy="311.6" r="1.4" stroke="#a3ff5d" stroke-width="1.1"/>
<circle cx="244.9" cy="320.7" r="1.4" stroke="#94ff6c" stroke-width="1.1"/>
<path d="M252.0 320.5h5M254.5 318.0v5" stroke="#3affc6"/>
<circle cx="369.4" cy="324.3" r="1.4" stroke="#9aff66" stroke-width="1.1"/>
<path d="M355.0 336.5h5M357.5 334.0v5" stroke="#62ff9d"/>
<circle cx="424.0" cy="323.5" r="1.4" stroke="#8bff75" stroke-width="1.1"/>
<path d="M439.0 320.5h5M441.5 318.0v5" stroke="#67ff99"/>
<path d="M274.0 355.5h5M276.5 353.0v5" stroke="#63ff9d"/>
<circle cx="336.4" cy="304.5" r="1.4" stroke="#8dff73" stroke-width="1.1"/>
<circle cx="447.8" cy="306.4" r="1.4" stroke="#e9ff16" stroke-width="1.1"/>
<circle cx="142.6" cy="310.5" r="1.4" stroke="#a5ff5b" stroke-width="1.1"/>
<circle cx="469.5" cy="322.4" r="1.4" stroke="#98ff68" stroke-width="1.1"/>
<circle cx="242.5" cy="371.5" r="1.4" stroke="#acff54" stroke-width="1.1"/>
<circle cx="495.4" cy="331.6" r="1.4" stroke="#d1ff2e" stroke-width="1.1"/>
<circle cx="338.2" cy="318.9" r="1.4" stroke="#98ff68" stroke-width="1.1"/>
<path d="M304.0 323.5h5M306.5 321.0v5" stroke="#67ff98"/>
<path d="M262.0 324.5h5M264.5 322.0v5" stroke="#7dff83"/>
<path d="M329.0 325.5h5M331.5 323.0v5" stroke="#40ffbf"/>
<circle cx="452.6" cy="314.6" r="1.4" stroke="#bdff43" stroke-width="1.1"/>
<circle cx="429.2" cy="325.5" r="1.4" stroke="#94ff6c" stroke-width="1.1"/>
<path d="M115.0 323.5h5M117.5 321.0v5" stroke="#1affe5"/>
<path d="M143.0 340.5h5M145.5 338.0v5" stroke="#0bfff4"/>
<circle cx="365.2" cy="315.8" r="1.4" stroke="#a1ff5f" stroke-width="1.1"/>
<circle cx="461.1" cy="325.3" r="1.4" stroke="#b0ff50" stroke-width="1.1"/>
<circle cx="328.6" cy="313.0" r="1.4" stroke="#8bff75" stroke-width="1.1"/>
<circle cx="452.2" cy="302.5" r="1.4" stroke="#93ff6d" stroke-width="1.1"/>
<path d="M346.0 316.5h5M348.5 314.0v5" stroke="#7cff84"/>
<path d="M217.0 299.5h5M219.5 297.0v5" stroke="#0bfff4"/>
<circle cx="468.2" cy="317.3" r="1.4" stroke="#b9ff47" stroke-width="1.1"/>
<circle cx="487.4" cy="336.1" r="1.4" stroke="#a8ff58" stroke-width="1.1"/>
<circle cx="479.7" cy="325.0" r="1.4" stroke="#b6ff49" stroke-width="1.1"/>
<circle cx="528.2" cy="302.2" r="1.4" stroke="#fbff04" stroke-width="1.1"/>
<circle cx="380.4" cy="328.5" r="1.4" stroke="#b1ff4f" stroke-width="1.1"/>
<circle cx="395.2" cy="321.1" r="1.4" stroke="#a8ff57" stroke-width="1.1"/>
<circle cx="513.5" cy="337.0" r="1.4" stroke="#dcff23" stroke-width="1.1"/>
<path d="M153.0 324.5h5M155.5 322.0v5" stroke="#3dffc3"/>
<circle cx="484.6" cy="318.3" r="1.4" stroke="#88ff78" stroke-width="1.1"/>
<path d="M355.0 316.5h5M357.5 314.0v5" stroke="#60ffa0"/>
<circle cx="453.0" cy="322.7" r="1.4" stroke="#e4ff1b" stroke-width="1.1"/>
<circle cx="467.6" cy="325.7" r="1.4" stroke="#9fff61" stroke-width="1.1"/>
<circle cx="510.8" cy="360.0" r="1.4" stroke="#acff54" stroke-width="1.1"/>
<circle cx="477.7" cy="315.5" r="1.4" stroke="#e5ff1a" stroke-width="1.1"/>
<circle cx="463.0" cy="324.0" r="1.4" stroke="#91ff6f" stroke-width="1.1"/>
<circle cx="416.3" cy="316.8" r="1.4" stroke="#88ff78" stroke-width="1.1"/>
<path d="M383.0 328.5h5M385.5 326.0v5" stroke="#7aff86"/>
<circle cx="281.6" cy="310.3" r="1.4" stroke="#95ff6b" stroke-width="1.1"/>
<path d="M56.0 318.5h5M58.5 316.0v5" stroke="#00feff"/>
<path d="M190.0 333.5h5M192.5 331.0v5" stroke="#63ff9d"/>
<circle cx="438.5" cy="347.0" r="1.4" stroke="#f5ff0a" stroke-width="1.1"/>
<circle cx="298.5" cy="433.0" r="1.4" stroke="#ceff31" stroke-width="1.1"/>
<path d="M267.0 320.5h5M269.5 318.0v5" stroke="#5affa6"/>
<path d="M116.0 308.5h5M118.5 306.0v5" stroke="#00b7ff"/>
<circle cx="425.2" cy="322.9" r="1.4" stroke="#c1ff3e" stroke-width="1.1"/>
<path d="M295.0 323.5h5M297.5 321.0v5" stroke="#54ffab"/>
<path d="M318.0 325.5h5M320.5 323.0v5" stroke="#61ff9e"/>
<circle cx="435.2" cy="333.1" r="1.4" stroke="#8fff71" stroke-width="1.1"/>
<circle cx="281.7" cy="324.7" r="1.4" stroke="#9bff65" stroke-width="1.1"/>
<path d="M226.0 329.5h5M228.5 327.0v5" stroke="#47ffb8"/>
<path d="M272.0 298.5h5M274.5 296.0v5" stroke="#63ff9d"/>
<circle cx="438.2" cy="312.8" r="1.4" stroke="#a3ff5d" stroke-width="1.1"/>
<path d="M260.0 354.5h5M262.5 352.0v5" stroke="#0bfff4"/>
<circle cx="247.1" cy="315.9" r="1.4" stroke="#81ff7f" stroke-width="1.1"/>
<circle cx="542.4" cy="311.7" r="1.4" stroke="#f7ff08" stroke-width="1.1"/>
<circle cx="428.1" cy="321.3" r="1.4" stroke="#9aff66" stroke-width="1.1"/>
<path d="M227.0 330.5h5M229.5 328.0v5" stroke="#4fffb1"/>
<path d="M139.0 318.5h5M141.5 316.0v5" stroke="#21ffde"/>
<path d="M248.0 313.5h5M250.5 311.0v5" stroke="#54ffac"/>
<circle cx="90.0" cy="341.5" r="1.4" stroke="#f5ff0a" stroke-width="1.1"/>
<circle cx="507.3" cy="335.7" r="1.4" stroke="#9cff64" stroke-width="1.1"/>
<path d="M321.0 339.5h5M323.5 337.0v5" stroke="#63ff9d"/>
<circle cx="127.2" cy="317.9" r="1.4" stroke="#b9ff47" stroke-width="1.1"/>
<path d="M313.0 325.5h5M315.5 323.0v5" stroke="#3effc1"/>
<path d="M225.0 334.5h5M227.5 332.0v5" stroke="#63ff9d"/>
<path d="M131.0 322.5h5M133.5 320.0v5" stroke="#00ebff"/>
<circle cx="461.3" cy="329.7" r="1.4" stroke="#92ff6e" stroke-width="1.1"/>
<circle cx="240.4" cy="324.9" r="1.4" stroke="#8cff74" stroke-width="1.1"/>
<path d="M291.0 328.5h5M293.5 326.0v5" stroke="#76ff8a"/>
<circle cx="465.6" cy="330.9" r="1.4" stroke="#88ff78" stroke-width="1.1"/>
<circle cx="528.8" cy="285.0" r="1.4" stroke="#f5ff0a" stroke-width="1.1"/>
<path d="M434.0 329.5h5M436.5 327.0v5" stroke="#76ff8a"/>
<path d="M444.0 277.5h5M446.5 275.0v5" stroke="#63ff9d"/>
<circle cx="441.5" cy="321.2" r="1.4" stroke="#9dff63" stroke-width="1.1"/>
<circle cx="438.6" cy="313.1" r="1.4" stroke="#9aff65" stroke-width="1.1"/>
<path d="M323.0 313.5h5M325.5 311.0v5" stroke="#5fffa0"/>
<circle cx="491.9" cy="336.5" r="1.4" stroke="#b6ff49" stroke-width="1.1"/>
<path d="M181.0 320.5h5M183.5 318.0v5" stroke="#69ff97"/>
<path d="M409.0 316.5h5M411.5 314.0v5" stroke="#5bffa5"/>
<circle cx="393.3" cy="318.1" r="1.4" stroke="#81ff7f" stroke-width="1.1"/>
<path d="M140.0 334.5h5M142.5 332.0v5" stroke="#0bfff4"/>
<circle cx="453.8" cy="327.0" r="1.4" stroke="#a3ff5d" stroke-width="1.1"/>
<circle cx="437.4" cy="322.2" r="1.4" stroke="#95ff6a" stroke-width="1.1"/>
<path d="M200.0 313.5h5M202.5 311.0v5" stroke="#5dffa3"/>
<circle cx="423.6" cy="316.0" r="1.4" stroke="#a2ff5e" stroke-width="1.1"/>
<circle cx="201.0" cy="322.6" r="1.4" stroke="#a4ff5c" stroke-width="1.1"/>
<circle cx="364.0" cy="330.7" r="1.4" stroke="#a2ff5e" stroke-width="1.1"/>
<path d="M340.0 331.5h5M342.5 329.0v5" stroke="#71ff8f"/>
<circle cx="458.7" cy="313.3" r="1.4" stroke="#89ff77" stroke-width="1.1"/>
<circle cx="426.9" cy="318.3" r="1.4" stroke="#a9ff56" stroke-width="1.1"/>
<path d="M222.0 311.5h5M224.5 309.0v5" stroke="#80ff80"/>
<path d="M368.0 324.5h5M370.5 322.0v5" stroke="#78ff88"/>
<circle cx="489.0" cy="313.1" r="1.4" stroke="#9cff64" stroke-width="1.1"/>
<circle cx="448.4" cy="323.9" r="1.4" stroke="#d3ff2c" stroke-width="1.1"/>
<circle cx="523.8" cy="294.8" r="1.4" stroke="#f5ff0a" stroke-width="1.1"/>
<circle cx="538.1" cy="328.1" r="1.4" stroke="#ffee00" stroke-width="1.1"/>
<circle cx="420.8" cy="323.1" r="1.4" stroke="#90ff70" stroke-width="1.1"/>
<path d="M329.0 317.5h5M331.5 315.0v5" stroke="#77ff88"/>
<path d="M337.0 315.5h5M339.5 313.0v5" stroke="#6dff93"/>
<path d="M198.0 330.5h5M200.5 328.0v5" stroke="#76ff8a"/>
<path d="M282.0 320.5h5M284.5 318.0v5" stroke="#5effa2"/>
<path d="M475.0 330.5h5M477.5 328.0v5" stroke="#6dff93"/>
<circle cx="520.4" cy="316.4" r="1.4" stroke="#beff41" stroke-width="1.1"/>
<path d="M117.0 307.5h5M119.5 305.0v5" stroke="#00f3ff"/>
<circle cx="391.4" cy="322.8" r="1.4" stroke="#a2ff5d" stroke-width="1.1"/>
<circle cx="505.8" cy="316.3" r="1.4" stroke="#a6ff5a" stroke-width="1.1"/>
<path d="M391.0 327.5h5M393.5 325.0v5" stroke="#7bff85"/>
<circle cx="409.0" cy="328.0" r="1.4" stroke="#98ff68" stroke-width="1.1"/>
<path d="M194.0 320.5h5M196.5 318.0v5" stroke="#44ffbc"/>
<path d="M111.0 317.5h5M113.5 315.0v5" stroke="#14ffeb"/>
<path d="M360.0 323.5h5M362.5 321.0v5" stroke="#68ff97"/>
<path d="M257.0 313.5h5M259.5 311.0v5" stroke="#60ffa0"/>
<circle cx="478.5" cy="342.0" r="1.4" stroke="#b8ff48" stroke-width="1.1"/>
<circle cx="425.4" cy="333.3" r="1.4" stroke="#99ff67" stroke-width="1.1"/>
<circle cx="461.9" cy="317.4" r="1.4" stroke="#a0ff60" stroke-width="1.1"/>
<path d="M313.0 315.5h5M315.5 313.0v5" stroke="#63ff9d"/>
<path d="M217.0 306.5h5M219.5 304.0v5" stroke="#56ffaa"/>
<circle cx="428.9" cy="324.8" r="1.4" stroke="#caff35" stroke-width="1.1"/>
<path d="M253.0 308.5h5M255.5 306.0v5" stroke="#20ffdf"/>
<path d="M220.0 313.5h5M222.5 311.0v5" stroke="#4dffb2"/>
<circle cx="411.0" cy="328.7" r="1.4" stroke="#c0ff3f" stroke-width="1.1"/>
<circle cx="517.8" cy="300.2" r="1.4" stroke="#ceff31" stroke-width="1.1"/>
<path d="M375.0 323.5h5M377.5 321.0v5" stroke="#77ff89"/>
<circle cx="397.5" cy="332.3" r="1.4" stroke="#97ff69" stroke-width="1.1"/>
<circle cx="411.2" cy="340.0" r="1.4" stroke="#f5ff0a" stroke-width="1.1"/>
<circle cx="165.0" cy="335.0" r="1.4" stroke="#acff54" stroke-width="1.1"/>
<path d="M431.0 325.5h5M433.5 323.0v5" stroke="#6dff93"/>
<circle cx="433.6" cy="321.7" r="1.4" stroke="#a0ff60" stroke-width="1.1"/>
<circle cx="392.8" cy="330.6" r="1.4" stroke="#bbff45" stroke-width="1.1"/>
<circle cx="517.8" cy="303.0" r="1.4" stroke="#e5ff1a" stroke-width="1.1"/>
<path d="M400.0 312.5h5M402.5 310.0v5" stroke="#73ff8d"/>
<circle cx="413.1" cy="325.8" r="1.4" stroke="#a2ff5d" stroke-width="1.1"/>
<circle cx="544.4" cy="333.9" r="1.4" stroke="#e1ff1e" stroke-width="1.1"/>
<circle cx="445.4" cy="310.6" r="1.4" stroke="#d7ff29" stroke-width="1.1"/>
<path d="M265.0 330.5h5M267.5 328.0v5" stroke="#4cffb4"/>
<circle cx="342.0" cy="330.2" r="1.4" stroke="#a7ff59" stroke-width="1.1"/>
<path d="M161.0 311.5h5M163.5 309.0v5" stroke="#2dffd3"/>
<path d="M209.0 319.5h5M211.5 317.0v5" stroke="#70ff90"/>
<path d="M238.0 321.5h5M240.5 319.0v5" stroke="#12ffed"/>
<path d="M143.0 310.5h5M145.5 308.0v5" stroke="#29ffd6"/>
<path d="M96.0 319.5h5M98.5 317.0v5" stroke="#02fffd"/>
<path d="M112.0 308.5h5M114.5 306.0v5" stroke="#5effa1"/>
<circle cx="540.8" cy="337.8" r="1.4" stroke="#fff700" stroke-width="1.1"/>
<path d="M244.0 332.5h5M246.5 330.0v5" stroke="#46ffba"/>
<path d="M530.0 326.5h5M532.5 324.0v5" stroke="#55ffaa"/>
<path d="M310.0 332.5h5M312.5 330.0v5" stroke="#49ffb7"/>
<circle cx="412.8" cy="334.1" r="1.4" stroke="#a5ff5b" stroke-width="1.1"/>
<path d="M159.0 326.5h5M161.5 324.0v5" stroke="#15ffea"/>
<path d="M276.0 321.5h5M278.5 319.0v5" stroke="#53ffad"/>
<circle cx="486.1" cy="321.7" r="1.4" stroke="#bbff45" stroke-width="1.1"/>
<circle cx="442.3" cy="318.7" r="1.4" stroke="#baff46" stroke-width="1.1"/>
<circle cx="432.0" cy="320.5" r="1.4" stroke="#daff26" stroke-width="1.1"/>
<path d="M430.0 321.5h5M432.5 319.0v5" stroke="#73ff8c"/>
<circle cx="476.4" cy="322.7" r="1.4" stroke="#acff53" stroke-width="1.1"/>
<circle cx="547.4" cy="302.5" r="1.4" stroke="#f4ff0b" stroke-width="1.1"/>
<circle cx="301.7" cy="328.2" r="1.4" stroke="#95ff6b" stroke-width="1.1"/>
<path d="M349.0 315.5h5M351.5 313.0v5" stroke="#71ff8f"/>
<circle cx="168.5" cy="334.5" r="1.4" stroke="#acff54" stroke-width="1.1"/>
<circle cx="426.8" cy="321.7" r="1.4" stroke="#81ff7f" stroke-width="1.1"/>
<path d="M249.0 311.5h5M251.5 309.0v5" stroke="#57ffa8"/>
<circle cx="118.0" cy="331.1" r="1.4" stroke="#8aff76" stroke-width="1.1"/>
<path d="M158.0 315.5h5M160.5 313.0v5" stroke="#62ff9e"/>
<path d="M292.0 317.5h5M294.5 315.0v5" stroke="#47ffb9"/>
<circle cx="436.6" cy="336.6" r="1.4" stroke="#9dff63" stroke-width="1.1"/>
<path d="M427.0 318.5h5M429.5 316.0v5" stroke="#79ff87"/>
<path d="M310.0 328.5h5M312.5 326.0v5" stroke="#72ff8e"/>
<path d="M180.0 325.5h5M182.5 323.0v5" stroke="#27ffd9"/>
<circle cx="411.0" cy="314.2" r="1.4" stroke="#9cff64" stroke-width="1.1"/>
<path d="M58.0 314.5h5M60.5 312.0v5" stroke="#1bffe4"/>
<circle cx="325.3" cy="317.5" r="1.4" stroke="#b2ff4d" stroke-width="1.1"/>
<path d="M229.0 323.5h5M231.5 321.0v5" stroke="#46ffb9"/>
<circle cx="465.0" cy="335.8" r="1.4" stroke="#98ff68" stroke-width="1.1"/>
<path d="M238.0 335.5h5M240.5 333.0v5" stroke="#63ff9d"/>
<path d="M345.0 311.5h5M347.5 309.0v5" stroke="#75ff8b"/>
<circle cx="414.3" cy="325.5" r="1.4" stroke="#a6ff5a" stroke-width="1.1"/>
<path d="M110.0 314.5h5M112.5 312.0v5" stroke="#19ffe6"/>
<circle cx="356.3" cy="332.0" r="1.4" stroke="#89ff77" stroke-width="1.1"/>
<circle cx="474.1" cy="306.7" r="1.4" stroke="#b8ff47" stroke-width="1.1"/>
<path d="M332.0 310.5h5M334.5 308.0v5" stroke="#45ffbb"/>
<path d="M241.0 311.5h5M243.5 309.0v5" stroke="#6bff95"/>
<path d="M257.0 326.5h5M259.5 324.0v5" stroke="#1bffe4"/>
<path d="M164.0 312.5h5M166.5 310.0v5" stroke="#53ffad"/>
<circle cx="431.7" cy="331.2" r="1.4" stroke="#96ff6a" stroke-width="1.1"/>
<circle cx="299.4" cy="326.3" r="1.4" stroke="#8fff71" stroke-width="1.1"/>
<path d="M291.0 312.5h5M293.5 310.0v5" stroke="#57ffa9"/>
<path d="M426.0 303.5h5M428.5 301.0v5" stroke="#50ffb0"/>
<path d="M193.0 318.5h5M195.5 316.0v5" stroke="#5cffa4"/>
<circle cx="466.3" cy="317.3" r="1.4" stroke="#93ff6d" stroke-width="1.1"/>
<circle cx="413.7" cy="321.0" r="1.4" stroke="#b1ff4f" stroke-width="1.1"/>
<path d="M346.0 321.5h5M348.5 319.0v5" stroke="#65ff9b"/>
<circle cx="533.1" cy="317.9" r="1.4" stroke="#c1ff3e" stroke-width="1.1"/>
<circle cx="495.0" cy="303.4" r="1.4" stroke="#d2ff2e" stroke-width="1.1"/>
<path d="M331.0 314.5h5M333.5 312.0v5" stroke="#7dff83"/>
<path d="M354.0 335.5h5M356.5 333.0v5" stroke="#63ff9d"/>
<circle cx="485.0" cy="343.4" r="1.4" stroke="#acff54" stroke-width="1.1"/>
<circle cx="454.8" cy="324.0" r="1.4" stroke="#8fff71" stroke-width="1.1"/>
<path d="M215.0 337.5h5M217.5 335.0v5" stroke="#0bfff4"/>
<circle cx="410.9" cy="334.3" r="1.4" stroke="#8eff71" stroke-width="1.1"/>
<circle cx="536.6" cy="331.4" r="1.4" stroke="#e3ff1c" stroke-width="1.1"/>
<circle cx="387.5" cy="322.7" r="1.4" stroke="#adff52" stroke-width="1.1"/>
<circle cx="500.7" cy="315.1" r="1.4" stroke="#8cff74" stroke-width="1.1"/>
<path d="M389.0 307.5h5M391.5 305.0v5" stroke="#63ff9c"/>
<path d="M232.0 299.5h5M234.5 297.0v5" stroke="#63ff9d"/>
<circle cx="494.1" cy="334.8" r="1.4" stroke="#b1ff4f" stroke-width="1.1"/>
<path d="M211.0 310.5h5M213.5 308.0v5" stroke="#28ffd7"/>
<circle cx="378.2" cy="305.7" r="1.4" stroke="#c1ff3f" stroke-width="1.1"/>
<circle cx="471.5" cy="300.1" r="1.4" stroke="#c4ff3c" stroke-width="1.1"/>
<circle cx="445.1" cy="332.8" r="1.4" stroke="#b0ff50" stroke-width="1.1"/>
<circle cx="530.2" cy="326.0" r="1.4" stroke="#ebff14" stroke-width="1.1"/>
<path d="M229.0 323.5h5M231.5 321.0v5" stroke="#49ffb6"/>
<path d="M521.0 389.5h5M523.5 387.0v5" stroke="#63ff9d"/>
<path d="M181.0 321.5h5M183.5 319.0v5" stroke="#43ffbd"/>
<circle cx="469.1" cy="322.3" r="1.4" stroke="#d2ff2d" stroke-width="1.1"/>
<path d="M171.0 324.5h5M173.5 322.0v5" stroke="#68ff98"/>
<circle cx="297.6" cy="287.0" r="1.4" stroke="#acff54" stroke-width="1.1"/>
<circle cx="496.5" cy="324.0" r="1.4" stroke="#d8ff27" stroke-width="1.1"/>
<circle cx="468.6" cy="313.5" r="1.4" stroke="#c8ff38" stroke-width="1.1"/>
<circle cx="499.9" cy="321.6" r="1.4" stroke="#c2ff3e" stroke-width="1.1"/>
<circle cx="485.3" cy="311.7" r="1.4" stroke="#d1ff2e" stroke-width="1.1"/>
<path d="M122.0 317.5h5M124.5 315.0v5" stroke="#0afff5"/>
<path d="M414.0 324.5h5M416.5 322.0v5" stroke="#7bff85"/>
<path d="M431.0 322.5h5M433.5 320.0v5" stroke="#50ffb0"/>
<circle cx="483.5" cy="313.6" r="1.4" stroke="#e5ff1a" stroke-width="1.1"/>
<circle cx="459.3" cy="326.6" r="1.4" stroke="#cfff30" stroke-width="1.1"/>
<circle cx="469.7" cy="324.9" r="1.4" stroke="#a6ff59" stroke-width="1.1"/>
<circle cx="515.7" cy="325.6" r="1.4" stroke="#d0ff30" stroke-width="1.1"/>
<path d="M334.0 317.5h5M336.5 315.0v5" stroke="#4dffb3"/>
<circle cx="515.9" cy="303.6" r="1.4" stroke="#b1ff4e" stroke-width="1.1"/>
<circle cx="402.9" cy="331.3" r="1.4" stroke="#d5ff2a" stroke-width="1.1"/>
<path d="M185.0 301.5h5M187.5 299.0v5" stroke="#00f5ff"/>
<circle cx="481.7" cy="356.0" r="1.4" stroke="#f5ff0a" stroke-width="1.1"/>
<path d="M182.0 307.5h5M184.5 305.0v5" stroke="#3fffc1"/>
<circle cx="142.5" cy="329.0" r="1.4" stroke="#9dff62" stroke-width="1.1"/>
<circle cx="419.9" cy="313.2" r="1.4" stroke="#a4ff5c" stroke-width="1.1"/>
<path d="M391.0 322.5h5M393.5 320.0v5" stroke="#65ff9b"/>
<path d="M128.0 317.5h5M130.5 315.0v5" stroke="#3effc2"/>
<circle cx="502.1" cy="326.0" r="1.4" stroke="#fdff02" stroke-width="1.1"/>
<path d="M84.0 328.5h5M86.5 326.0v5" stroke="#25ffda"/>
<path d="M216.0 286.5h5M218.5 284.0v5" stroke="#63ff9d"/>
<path d="M112.0 316.5h5M114.5 314.0v5" stroke="#08fff7"/>
<path d="M290.0 315.5h5M292.5 313.0v5" stroke="#50ffb0"/>
<path d="M423.0 316.5h5M425.5 314.0v5" stroke="#63ff9d"/>
<circle cx="486.8" cy="320.4" r="1.4" stroke="#b9ff46" stroke-width="1.1"/>
<circle cx="289.1" cy="327.0" r="1.4" stroke="#b5ff4a" stroke-width="1.1"/>
<circle cx="506.8" cy="310.9" r="1.4" stroke="#c7ff39" stroke-width="1.1"/>
<circle cx="431.2" cy="331.6" r="1.4" stroke="#a9ff57" stroke-width="1.1"/>
<circle cx="497.5" cy="329.5" r="1.4" stroke="#bdff43" stroke-width="1.1"/>
<path d="M221.0 310.5h5M223.5 308.0v5" stroke="#4effb2"/>
<path d="M451.0 318.5h5M453.5 316.0v5" stroke="#79ff87"/>
<circle cx="285.3" cy="318.2" r="1.4" stroke="#a2ff5e" stroke-width="1.1"/>
<circle cx="431.4" cy="324.6" r="1.4" stroke="#a6ff5a" stroke-width="1.1"/>
<path d="M261.0 311.5h5M263.5 309.0v5" stroke="#2effd2"/>
<circle cx="515.8" cy="310.4" r="1.4" stroke="#c5ff3a" stroke-width="1.1"/>
<path d="M260.0 321.5h5M262.5 319.0v5" stroke="#48ffb8"/>
<path d="M238.0 309.5h5M240.5 307.0v5" stroke="#51ffae"/>
<path d="M220.0 298.5h5M222.5 296.0v5" stroke="#0bfff4"/>
<circle cx="479.4" cy="324.9" r="1.4" stroke="#ccff33" stroke-width="1.1"/>
<path d="M298.0 314.5h5M300.5 312.0v5" stroke="#70ff90"/>
<path d="M225.0 349.5h5M227.5 347.0v5" stroke="#0bfff4"/>
<path d="M69.0 314.5h5M71.5 312.0v5" stroke="#15ffea"/>
<circle cx="430.3" cy="329.1" r="1.4" stroke="#c5ff3a" stroke-width="1.1"/>
<circle cx="460.0" cy="333.0" r="1.4" stroke="#f0ff0f" stroke-width="1.1"/>
<circle cx="325.8" cy="311.1" r="1.4" stroke="#91ff6f" stroke-width="1.1"/>
<circle cx="377.6" cy="325.6" r="1.4" stroke="#8fff71" stroke-width="1.1"/>
<path d="M334.0 318.5h5M336.5 316.0v5" stroke="#73ff8d"/>
<path d="M351.0 321.5h5M353.5 319.0v5" stroke="#50ffaf"/>
<path d="M336.0 312.5h5M338.5 310.0v5" stroke="#75ff8b"/>
<circle cx="422.7" cy="331.0" r="1.4" stroke="#83ff7d" stroke-width="1.1"/>
<circle cx="495.7" cy="334.0" r="1.4" stroke="#c5ff3b" stroke-width="1.1"/>
<path d="M121.0 298.5h5M123.5 296.0v5" stroke="#0bfff4"/>
<circle cx="466.8" cy="328.6" r="1.4" stroke="#c3ff3c" stroke-width="1.1"/>
<circle cx="324.1" cy="315.8" r="1.4" stroke="#8aff76" stroke-width="1.1"/>
<path d="M176.0 319.5h5M178.5 317.0v5" stroke="#44ffbc"/>
<circle cx="445.1" cy="308.3" r="1.4" stroke="#ffef00" stroke-width="1.1"/>
<circle cx="470.6" cy="329.0" r="1.4" stroke="#fcff03" stroke-width="1.1"/>
<circle cx="522.4" cy="309.1" r="1.4" stroke="#bcff44" stroke-width="1.1"/>
<circle cx="468.7" cy="374.8" r="1.4" stroke="#ceff31" stroke-width="1.1"/>
<path d="M243.0 312.5h5M245.5 310.0v5" stroke="#72ff8e"/>
<circle cx="483.5" cy="307.6" r="1.4" stroke="#c8ff38" stroke-width="1.1"/>
<path d="M180.0 328.5h5M182.5 326.0v5" stroke="#59ffa7"/>
<circle cx="441.2" cy="308.7" r="1.4" stroke="#a7ff59" stroke-width="1.1"/>
<circle cx="412.4" cy="317.1" r="1.4" stroke="#b1ff4f" stroke-width="1.1"/>
<circle cx="452.8" cy="347.0" r="1.4" stroke="#f5ff0a" stroke-width="1.1"/>
<path d="M449.0 329.5h5M451.5 327.0v5" stroke="#61ff9f"/>
<path d="M260.0 342.5h5M262.5 340.0v5" stroke="#63ff9d"/>
<circle cx="454.0" cy="315.9" r="1.4" stroke="#daff25" stroke-width="1.1"/>
<path d="M208.0 315.5h5M210.5 313.0v5" stroke="#55ffab"/>
<path d="M313.0 314.5h5M315.5 312.0v5" stroke="#73ff8d"/>
<circle cx="465.8" cy="287.5" r="1.4" stroke="#f5ff0a" stroke-width="1.1"/>
<circle cx="491.2" cy="322.8" r="1.4" stroke="#e3ff1c" stroke-width="1.1"/>
<path d="M261.0 307.5h5M263.5 305.0v5" stroke="#70ff90"/>
<path d="M288.0 298.5h5M290.5 296.0v5" stroke="#63ff9d"/>
<path d="M366.0 324.5h5M368.5 322.0v5" stroke="#7fff81"/>
<circle cx="435.5" cy="321.5" r="1.4" stroke="#b4ff4c" stroke-width="1.1"/>
<circle cx="383.8" cy="349.5" r="1.4" stroke="#f5ff0a" stroke-width="1.1"/>
<circle cx="418.9" cy="330.7" r="1.4" stroke="#e4ff1b" stroke-width="1.1"/>
<path d="M431.0 336.5h5M433.5 334.0v5" stroke="#6aff96"/>
<path d="M349.0 337.5h5M351.5 335.0v5" stroke="#6dff93"/>
<circle cx="441.2" cy="335.4" r="1.4" stroke="#a7ff59" stroke-width="1.1"/>
<circle cx="538.1" cy="319.7" r="1.4" stroke="#eeff11" stroke-width="1.1"/>
<path d="M82.0 306.5h5M84.5 304.0v5" stroke="#34ffcb"/>
<path d="M301.0 321.5h5M303.5 319.0v5" stroke="#4effb2"/>
<circle cx="440.1" cy="315.4" r="1.4" stroke="#a6ff59" stroke-width="1.1"/>
<circle cx="508.4" cy="330.7" r="1.4" stroke="#cdff32" stroke-width="1.1"/>
<circle cx="475.1" cy="328.6" r="1.4" stroke="#c8ff37" stroke-width="1.1"/>
<circle cx="463.4" cy="339.9" r="1.4" stroke="#b1ff4f" stroke-width="1.1"/>
<circle cx="410.0" cy="355.8" r="1.4" stroke="#acff54" stroke-width="1.1"/>
<path d="M373.0 339.5h5M375.5 337.0v5" stroke="#63ff9d"/>
<circle cx="345.0" cy="338.8" r="1.4" stroke="#acff54" stroke-width="1.1"/>
<circle cx="409.1" cy="333.8" r="1.4" stroke="#82ff7e" stroke-width="1.1"/>
<path d="M241.0 329.5h5M243.5 327.0v5" stroke="#7eff82"/>
<circle cx="522.1" cy="320.3" r="1.4" stroke="#eeff11" stroke-width="1.1"/>
<path d="M213.0 314.5h5M215.5 312.0v5" stroke="#09fff6"/>
<path d="M340.0 304.5h5M342.5 302.0v5" stroke="#6cff94"/>
<circle cx="458.3" cy="320.0" r="1.4" stroke="#b7ff49" stroke-width="1.1"/>
<circle cx="426.8" cy="315.5" r="1.4" stroke="#a6ff5a" stroke-width="1.1"/>
<path d="M159.0 315.5h5M161.5 313.0v5" stroke="#20ffdf"/>
<circle cx="477.2" cy="314.8" r="1.4" stroke="#b5ff4a" stroke-width="1.1"/>
<circle cx="448.7" cy="329.3" r="1.4" stroke="#e1ff1e" stroke-width="1.1"/>
<circle cx="438.7" cy="322.5" r="1.4" stroke="#b7ff48" stroke-width="1.1"/>
<circle cx="452.9" cy="326.7" r="1.4" stroke="#bdff43" stroke-width="1.1"/>
<circle cx="494.5" cy="326.2" r="1.4" stroke="#85ff7b" stroke-width="1.1"/>
<circle cx="368.8" cy="360.0" r="1.4" stroke="#acff54" stroke-width="1.1"/>
<path d="M230.0 334.5h5M232.5 332.0v5" stroke="#63ff9d"/>
<path d="M362.0 343.5h5M364.5 341.0v5" stroke="#0bfff4"/>
<path d="M272.0 329.5h5M274.5 327.0v5" stroke="#54ffab"/>
<circle cx="380.1" cy="333.8" r="1.4" stroke="#c7ff39" stroke-width="1.1"/>
<path d="M216.0 316.5h5M218.5 314.0v5" stroke="#61ff9f"/>
<circle cx="440.7" cy="328.1" r="1.4" stroke="#cbff34" stroke-width="1.1"/>
<path d="M388.0 326.5h5M390.5 324.0v5" stroke="#80ff80"/>
<path d="M291.0 318.5h5M293.5 316.0v5" stroke="#3dffc2"/>
<path d="M72.0 338.5h5M74.5 336.0v5" stroke="#63ff9d"/>
<path d="M414.0 324.5h5M416.5 322.0v5" stroke="#7dff83"/>
<circle cx="82.6" cy="293.0" r="1.4" stroke="#acff54" stroke-width="1.1"/>
<circle cx="402.6" cy="308.2" r="1.4" stroke="#e5ff1a" stroke-width="1.1"/>
<circle cx="481.4" cy="318.9" r="1.4" stroke="#afff51" stroke-width="1.1"/>
<path d="M442.0 350.5h5M444.5 348.0v5" stroke="#63ff9d"/>
<path d="M239.0 311.5h5M241.5 309.0v5" stroke="#3effc1"/>
<path d="M278.0 343.5h5M280.5 341.0v5" stroke="#0bfff4"/>
<circle cx="260.8" cy="315.4" r="1.4" stroke="#8eff72" stroke-width="1.1"/>
<path d="M89.0 318.5h5M91.5 316.0v5" stroke="#64ff9c"/>
<circle cx="215.8" cy="314.4" r="1.4" stroke="#94ff6b" stroke-width="1.1"/>
<circle cx="365.9" cy="323.8" r="1.4" stroke="#9aff66" stroke-width="1.1"/>
<path d="M171.0 311.5h5M173.5 309.0v5" stroke="#4dffb2"/>
<circle cx="520.7" cy="320.6" r="1.4" stroke="#b5ff4a" stroke-width="1.1"/>
<path d="M172.0 341.5h5M174.5 339.0v5" stroke="#0bfff4"/>
<circle cx="255.9" cy="305.8" r="1.4" stroke="#adff52" stroke-width="1.1"/>
<path d="M189.0 301.5h5M191.5 299.0v5" stroke="#2dffd2"/>
<circle cx="505.5" cy="329.3" r="1.4" stroke="#cfff30" stroke-width="1.1"/>
<circle cx="510.1" cy="325.0" r="1.4" stroke="#ddff22" stroke-width="1.1"/>
<path d="M250.0 327.5h5M252.5 325.0v5" stroke="#7aff86"/>
<circle cx="527.5" cy="331.6" r="1.4" stroke="#faff05" stroke-width="1.1"/>
<circle cx="506.7" cy="342.0" r="1.4" stroke="#ffe300" stroke-width="1.1"/>
<circle cx="458.7" cy="313.3" r="1.4" stroke="#e8ff17" stroke-width="1.1"/>
<path d="M112.0 320.5h5M114.5 318.0v5" stroke="#00eaff"/>
<circle cx="441.8" cy="336.9" r="1.4" stroke="#a5ff5a" stroke-width="1.1"/>
<circle cx="377.9" cy="311.3" r="1.4" stroke="#acff53" stroke-width="1.1"/>
<circle cx="472.4" cy="324.0" r="1.4" stroke="#d8ff27" stroke-width="1.1"/>
<path d="M234.0 321.5h5M236.5 319.0v5" stroke="#32ffcd"/>
<circle cx="391.8" cy="340.0" r="1.4" stroke="#f5ff0a" stroke-width="1.1"/>
<circle cx="324.6" cy="314.6" r="1.4" stroke="#bcff44" stroke-width="1.1"/>
<circle cx="430.1" cy="326.5" r="1.4" stroke="#a2ff5e" stroke-width="1.1"/>
<path d="M202.0 316.5h5M204.5 314.0v5" stroke="#80ff80"/>
<circle cx="436.5" cy="307.5" r="1.4" stroke="#8aff76" stroke-width="1.1"/>
<circle cx="429.5" cy="329.7" r="1.4" stroke="#bfff40" stroke-width="1.1"/>
<circle cx="233.2" cy="316.3" r="1.4" stroke="#a3ff5d" stroke-width="1.1"/>
<path d="M396.0 322.5h5M398.5 320.0v5" stroke="#67ff99"/>
<circle cx="521.2" cy="304.5" r="1.4" stroke="#96ff6a" stroke-width="1.1"/>
<path d="M190.0 321.5h5M192.5 319.0v5" stroke="#00e1ff"/>
<circle cx="441.7" cy="315.9" r="1.4" stroke="#a0ff60" stroke-width="1.1"/>
<circle cx="492.0" cy="302.5" r="1.4" stroke="#a0ff5f" stroke-width="1.1"/>
<path d="M249.0 311.5h5M251.5 309.0v5" stroke="#78ff88"/>
<path d="M195.0 311.5h5M197.5 309.0v5" stroke="#02fffd"/>
<path d="M301.0 315.5h5M303.5 313.0v5" stroke="#4fffb1"/>
<circle cx="366.2" cy="344.5" r="1.4" stroke="#acff54" stroke-width="1.1"/>
<circle cx="456.4" cy="330.9" r="1.4" stroke="#a8ff58" stroke-width="1.1"/>
<circle cx="469.6" cy="337.4" r="1.4" stroke="#deff21" stroke-width="1.1"/>
<path d="M371.0 325.5h5M373.5 323.0v5" stroke="#7eff82"/>
<circle cx="440.6" cy="326.8" r="1.4" stroke="#adff52" stroke-width="1.1"/>
<path d="M282.0 311.5h5M284.5 309.0v5" stroke="#66ff9a"/>
<circle cx="460.7" cy="322.5" r="1.4" stroke="#acff54" stroke-width="1.1"/>
<path d="M181.0 315.5h5M183.5 313.0v5" stroke="#02fffd"/>
<path d="M66.0 324.5h5M68.5 322.0v5" stroke="#00dcff"/>
<circle cx="513.7" cy="335.0" r="1.4" stroke="#abff55" stroke-width="1.1"/>
<path d="M233.0 316.5h5M235.5 314.0v5" stroke="#47ffb8"/>
<circle cx="428.6" cy="328.4" r="1.4" stroke="#a2ff5e" stroke-width="1.1"/>
<circle cx="427.7" cy="325.7" r="1.4" stroke="#adff53" stroke-width="1.1"/>
<path d="M55.0 299.5h5M57.5 297.0v5" stroke="#00faff"/>
<circle cx="372.1" cy="322.4" r="1.4" stroke="#86ff7a" stroke-width="1.1"/>
<path d="M312.0 326.5h5M314.5 324.0v5" stroke="#6eff92"/>
<path d="M196.0 317.5h5M198.5 315.0v5" stroke="#49ffb7"/>
<circle cx="359.8" cy="322.5" r="1.4" stroke="#91ff6f" stroke-width="1.1"/>
<circle cx="494.7" cy="335.3" r="1.4" stroke="#c0ff40" stroke-width="1.1"/>
<circle cx="439.0" cy="328.2" r="1.4" stroke="#b3ff4c" stroke-width="1.1"/>
<circle cx="521.5" cy="322.8" r="1.4" stroke="#95ff6a" stroke-width="1.1"/>
<path d="M282.0 329.5h5M284.5 327.0v5" stroke="#7eff82"/>
<circle cx="371.7" cy="336.1" r="1.4" stroke="#86ff7a" stroke-width="1.1"/>
<circle cx="287.7" cy="317.2" r="1.4" stroke="#94ff6c" stroke-width="1.1"/>
<path d="M264.0 317.5h5M266.5 315.0v5" stroke="#19ffe6"/>
<circle cx="320.0" cy="339.0" r="1.4" stroke="#acff54" stroke-width="1.1"/>
<path d="M221.0 321.5h5M223.5 319.0v5" stroke="#2bffd5"/>
<circle cx="424.3" cy="312.2" r="1.4" stroke="#b3ff4d" stroke-width="1.1"/>
<circle cx="473.3" cy="314.5" r="1.4" stroke="#e6ff19" stroke-width="1.1"/>
<circle cx="453.7" cy="305.5" r="1.4" stroke="#a1ff5e" stroke-width="1.1"/>
<circle cx="533.5" cy="319.6" r="1.4" stroke="#fff100" stroke-width="1.1"/>
<circle cx="405.5" cy="351.5" r="1.4" stroke="#acff54" stroke-width="1.1"/>
<circle cx="307.1" cy="326.9" r="1.4" stroke="#99ff67" stroke-width="1.1"/>
<circle cx="450.7" cy="303.2" r="1.4" stroke="#96ff6a" stroke-width="1.1"/>
<path d="M462.0 329.5h5M464.5 327.0v5" stroke="#57ffa9"/>
<circle cx="270.2" cy="309.2" r="1.4" stroke="#a9ff57" stroke-width="1.1"/>
<circle cx="460.5" cy="300.2" r="1.4" stroke="#b7ff49" stroke-width="1.1"/>
<circle cx="425.5" cy="356.5" r="1.4" stroke="#acff54" stroke-width="1.1"/>
<path d="M53.0 307.5h5M55.5 305.0v5" stroke="#43ffbd"/>
<circle cx="512.9" cy="326.0" r="1.4" stroke="#c2ff3d" stroke-width="1.1"/>
<circle cx="500.8" cy="297.5" r="1.4" stroke="#acff54" stroke-width="1.1"/>
<path d="M303.0 308.5h5M305.5 306.0v5" stroke="#5cffa4"/>
<path d="M169.0 318.5h5M171.5 316.0v5" stroke="#52ffae"/>
<path d="M255.0 321.5h5M257.5 319.0v5" stroke="#49ffb6"/>
<circle cx="510.3" cy="311.3" r="1.4" stroke="#fffc00" stroke-width="1.1"/>
<path d="M295.0 334.5h5M297.5 332.0v5" stroke="#0bfff4"/>
<path d="M152.0 297.5h5M154.5 295.0v5" stroke="#63ff9d"/>
<path d="M188.0 316.5h5M190.5 314.0v5" stroke="#71ff8f"/>
<path d="M231.0 310.5h5M233.5 308.0v5" stroke="#51ffaf"/>
<path d="M389.0 327.5h5M391.5 325.0v5" stroke="#73ff8d"/>
<circle cx="512.3" cy="335.8" r="1.4" stroke="#b7ff48" stroke-width="1.1"/>
<circle cx="144.3" cy="321.9" r="1.4" stroke="#a8ff57" stroke-width="1.1"/>
<path d="M244.0 304.5h5M246.5 302.0v5" stroke="#52ffad"/>
<circle cx="548.2" cy="317.2" r="1.4" stroke="#fffd00" stroke-width="1.1"/>
<path d="M113.0 310.5h5M115.5 308.0v5" stroke="#17ffe9"/>
<circle cx="489.8" cy="349.9" r="1.4" stroke="#f5ff0a" stroke-width="1.1"/>
<path d="M204.0 248.5h5M206.5 246.0v5" stroke="#76ff8a"/>
<path d="M104.0 310.5h5M106.5 308.0v5" stroke="#58ffa8"/>
<circle cx="455.7" cy="360.0" r="1.4" stroke="#acff54" stroke-width="1.1"/>
<path d="M190.0 330.5h5M192.5 328.0v5" stroke="#3fffc1"/>
<circle cx="442.9" cy="332.3" r="1.4" stroke="#dfff21" stroke-width="1.1"/>
<path d="M471.0 323.5h5M473.5 321.0v5" stroke="#6cff94"/>
<circle cx="312.8" cy="318.6" r="1.4" stroke="#92ff6e" stroke-width="1.1"/>
<circle cx="330.0" cy="342.5" r="1.4" stroke="#acff54" stroke-width="1.1"/>
<circle cx="339.3" cy="324.4" r="1.4" stroke="#9eff62" stroke-width="1.1"/>
<path d="M338.0 331.5h5M340.5 329.0v5" stroke="#50ffb0"/>
<path d="M235.0 318.5h5M237.5 316.0v5" stroke="#31ffce"/>
<path d="M298.0 322.5h5M300.5 320.0v5" stroke="#52ffae"/>
<circle cx="447.2" cy="326.2" r="1.4" stroke="#d4ff2c" stroke-width="1.1"/>
<path d="M198.0 318.5h5M200.5 316.0v5" stroke="#2fffd1"/>
<circle cx="529.7" cy="348.7" r="1.4" stroke="#f5ff0a" stroke-width="1.1"/>
<circle cx="423.4" cy="323.5" r="1.4" stroke="#9cff64" stroke-width="1.1"/>
<path d="M376.0 331.5h5M378.5 329.0v5" stroke="#6cff94"/>
<path d="M289.0 330.5h5M291.5 328.0v5" stroke="#27ffd8"/>
<path d="M48.0 339.5h5M50.5 337.0v5" stroke="#32ffcd"/>
<path d="M212.0 378.5h5M214.5 376.0v5" stroke="#0bfff4"/>
<path d="M117.0 315.5h5M119.5 313.0v5" stroke="#00fbff"/>
<circle cx="441.8" cy="298.8" r="1.4" stroke="#acff54" stroke-width="1.1"/>
<circle cx="406.6" cy="335.8" r="1.4" stroke="#acff54" stroke-width="1.1"/>
<circle cx="458.0" cy="310.4" r="1.4" stroke="#c4ff3b" stroke-width="1.1"/>
<path d="M68.0 311.5h5M70.5 309.0v5" stroke="#6aff96"/>
<path d="M360.0 310.5h5M362.5 308.0v5" stroke="#69ff97"/>
<circle cx="463.6" cy="328.1" r="1.4" stroke="#fcff03" stroke-width="1.1"/>
<path d="M281.0 335.5h5M283.5 333.0v5" stroke="#63ff9d"/>
<path d="M100.0 329.5h5M102.5 327.0v5" stroke="#1fffe0"/>
<circle cx="489.5" cy="330.3" r="1.4" stroke="#fff000" stroke-width="1.1"/>
<circle cx="524.1" cy="302.1" r="1.4" stroke="#d6ff29" stroke-width="1.1"/>
<path d="M369.0 271.5h5M371.5 269.0v5" stroke="#63ff9d"/>
<path d="M372.0 325.5h5M374.5 323.0v5" stroke="#65ff9a"/>
<path d="M396.0 332.5h5M398.5 330.0v5" stroke="#78ff88"/>
<circle cx="432.9" cy="340.7" r="1.4" stroke="#b3ff4d" stroke-width="1.1"/>
<circle cx="204.8" cy="325.5" r="1.4" stroke="#a7ff59" stroke-width="1.1"/>
<circle cx="483.7" cy="322.6" r="1.4" stroke="#fffb00" stroke-width="1.1"/>
<circle cx="509.1" cy="305.0" r="1.4" stroke="#c2ff3e" stroke-width="1.1"/>
<circle cx="475.4" cy="327.1" r="1.4" stroke="#9dff63" stroke-width="1.1"/>
<path d="M287.0 320.5h5M289.5 318.0v5" stroke="#72ff8e"/>
<circle cx="528.2" cy="305.3" r="1.4" stroke="#f4ff0b" stroke-width="1.1"/>
<path d="M121.0 314.5h5M123.5 312.0v5" stroke="#23ffdc"/>
<path d="M325.0 318.5h5M327.5 316.0v5" stroke="#4effb2"/>
<path d="M112.0 334.5h5M114.5 332.0v5" stroke="#63ff9d"/>
<circle cx="412.4" cy="334.1" r="1.4" stroke="#a7ff58" stroke-width="1.1"/>
<path d="M84.0 286.5h5M86.5 284.0v5" stroke="#63ff9d"/>
<path d="M233.0 316.5h5M235.5 314.0v5" stroke="#32ffcd"/>
<path d="M440.0 321.5h5M442.5 319.0v5" stroke="#6bff95"/>
<circle cx="383.8" cy="345.0" r="1.4" stroke="#acff54" stroke-width="1.1"/>
<circle cx="381.9" cy="320.7" r="1.4" stroke="#92ff6e" stroke-width="1.1"/>
<path d="M282.0 312.5h5M284.5 310.0v5" stroke="#5effa2"/>
<path d="M366.0 327.5h5M368.5 325.0v5" stroke="#7eff82"/>
<path d="M125.0 324.5h5M127.5 322.0v5" stroke="#03fffc"/>
<circle cx="217.7" cy="312.3" r="1.4" stroke="#9dff63" stroke-width="1.1"/>
<path d="M130.0 334.5h5M132.5 332.0v5" stroke="#63ff9d"/>
<circle cx="313.7" cy="320.1" r="1.4" stroke="#b6ff49" stroke-width="1.1"/>
<circle cx="528.2" cy="322.4" r="1.4" stroke="#e3ff1c" stroke-width="1.1"/>
<path d="M237.0 322.5h5M239.5 320.0v5" stroke="#63ff9d"/>
<circle cx="408.4" cy="325.3" r="1.4" stroke="#99ff67" stroke-width="1.1"/>
<path d="M268.0 315.5h5M270.5 313.0v5" stroke="#66ff9a"/>
<path d="M116.0 312.5h5M118.5 310.0v5" stroke="#01fffe"/>
<circle cx="380.9" cy="315.6" r="1.4" stroke="#85ff7b" stroke-width="1.1"/>
<path d="M382.0 327.5h5M384.5 325.0v5" stroke="#7bff85"/>
<path d="M138.0 315.5h5M140.5 313.0v5" stroke="#33ffcd"/>
<circle cx="502.8" cy="318.6" r="1.4" stroke="#e8ff17" stroke-width="1.1"/>
<circle cx="306.1" cy="319.6" r="1.4" stroke="#82ff7e" stroke-width="1.1"/>
<circle cx="467.5" cy="298.8" r="1.4" stroke="#f5ff0a" stroke-width="1.1"/>
<path d="M465.0 329.5h5M467.5 327.0v5" stroke="#6cff94"/>
<path d="M246.0 316.5h5M248.5 314.0v5" stroke="#27ffd8"/>
<circle cx="469.0" cy="310.4" r="1.4" stroke="#acff54" stroke-width="1.1"/>
<circle cx="374.3" cy="314.2" r="1.4" stroke="#9aff66" stroke-width="1.1"/>
<circle cx="264.0" cy="313.8" r="1.4" stroke="#86ff7a" stroke-width="1.1"/>
<circle cx="409.0" cy="327.8" r="1.4" stroke="#81ff7f" stroke-width="1.1"/>
<path d="M162.0 317.5h5M164.5 315.0v5" stroke="#1dffe2"/>
<circle cx="496.5" cy="315.7" r="1.4" stroke="#c6ff39" stroke-width="1.1"/>
<circle cx="485.1" cy="334.0" r="1.4" stroke="#beff42" stroke-width="1.1"/>
<path d="M312.0 320.5h5M314.5 318.0v5" stroke="#50ffb0"/>
<path d="M268.0 331.5h5M270.5 329.0v5" stroke="#48ffb7"/>
<circle cx="390.3" cy="328.9" r="1.4" stroke="#91ff6f" stroke-width="1.1"/>
<circle cx="395.0" cy="325.0" r="1.4" stroke="#89ff77" stroke-width="1.1"/>
<path d="M328.0 328.5h5M330.5 326.0v5" stroke="#4affb5"/>
<path d="M251.0 324.5h5M253.5 322.0v5" stroke="#51ffaf"/>
<path d="M179.0 299.5h5M181.5 297.0v5" stroke="#63ff9d"/>
<path d="M179.0 315.5h5M181.5 313.0v5" stroke="#7cff84"/>
<circle cx="490.8" cy="299.5" r="1.4" stroke="#f5ff0a" stroke-width="1.1"/>
<circle cx="386.8" cy="382.0" r="1.4" stroke="#acff54" stroke-width="1.1"/>
<circle cx="373.1" cy="319.6" r="1.4" stroke="#94ff6c" stroke-width="1.1"/>
<path d="M413.0 327.5h5M415.5 325.0v5" stroke="#52ffae"/>
<path d="M268.0 319.5h5M270.5 317.0v5" stroke="#29ffd7"/>
<circle cx="544.4" cy="317.2" r="1.4" stroke="#f4ff0b" stroke-width="1.1"/>
<path d="M397.0 328.5h5M399.5 326.0v5" stroke="#65ff9b"/>
<path d="M417.0 319.5h5M419.5 317.0v5" stroke="#69ff97"/>
<path d="M423.0 343.5h5M425.5 341.0v5" stroke="#63ff9d"/>
<path d="M308.0 320.5h5M310.5 318.0v5" stroke="#7bff85"/>
<path d="M124.0 317.5h5M126.5 315.0v5" stroke="#16ffe9"/>
<circle cx="402.5" cy="328.0" r="1.4" stroke="#a1ff5f" stroke-width="1.1"/>
<circle cx="442.6" cy="325.8" r="1.4" stroke="#93ff6d" stroke-width="1.1"/>
<path d="M428.0 337.5h5M430.5 335.0v5" stroke="#74ff8c"/>
<circle cx="390.0" cy="323.2" r="1.4" stroke="#82ff7e" stroke-width="1.1"/>
<circle cx="422.5" cy="358.2" r="1.4" stroke="#acff54" stroke-width="1.1"/>
<path d="M209.0 330.5h5M211.5 328.0v5" stroke="#3affc5"/>
<circle cx="373.5" cy="338.3" r="1.4" stroke="#9aff66" stroke-width="1.1"/>
<circle cx="464.5" cy="293.8" r="1.4" stroke="#acff54" stroke-width="1.1"/>
<circle cx="527.0" cy="330.1" r="1.4" stroke="#9dff63" stroke-width="1.1"/>
<circle cx="480.7" cy="303.0" r="1.4" stroke="#8fff70" stroke-width="1.1"/>
<path d="M292.0 321.5h5M294.5 319.0v5" stroke="#72ff8e"/>
<path d="M249.0 317.5h5M251.5 315.0v5" stroke="#2affd6"/>
<circle cx="510.0" cy="337.7" r="1.4" stroke="#faff05" stroke-width="1.1"/>
<path d="M298.0 335.5h5M300.5 333.0v5" stroke="#6cff94"/>
<circle cx="486.5" cy="321.7" r="1.4" stroke="#c4ff3c" stroke-width="1.1"/>
<circle cx="115.8" cy="313.5" r="1.4" stroke="#9fff60" stroke-width="1.1"/>
<path d="M166.0 319.5h5M168.5 317.0v5" stroke="#2effd1"/>
<path d="M69.0 327.5h5M71.5 325.0v5" stroke="#1cffe4"/>
<circle cx="506.7" cy="329.7" r="1.4" stroke="#f3ff0c" stroke-width="1.1"/>
<circle cx="375.9" cy="320.9" r="1.4" stroke="#a5ff5b" stroke-width="1.1"/>
<path d="M262.0 298.5h5M264.5 296.0v5" stroke="#63ff9d"/>
<path d="M247.0 319.5h5M249.5 317.0v5" stroke="#1fffe0"/>
<circle cx="347.3" cy="332.3" r="1.4" stroke="#9aff66" stroke-width="1.1"/>
<circle cx="498.6" cy="351.8" r="1.4" stroke="#ffe300" stroke-width="1.1"/>
<circle cx="425.7" cy="305.6" r="1.4" stroke="#91ff6f" stroke-width="1.1"/>
<path d="M261.0 323.5h5M263.5 321.0v5" stroke="#2fffd0"/>
<path d="M227.0 305.5h5M229.5 303.0v5" stroke="#5effa2"/>
<circle cx="397.5" cy="342.5" r="1.4" stroke="#f5ff0a" stroke-width="1.1"/>
<path d="M271.0 302.5h5M273.5 300.0v5" stroke="#62ff9e"/>
<path d="M111.0 320.5h5M113.5 318.0v5" stroke="#1fffe0"/>
<circle cx="491.7" cy="323.8" r="1.4" stroke="#9cff63" stroke-width="1.1"/>
<path d="M309.0 336.5h5M311.5 334.0v5" stroke="#60ffa0"/>
<circle cx="428.7" cy="312.6" r="1.4" stroke="#90ff70" stroke-width="1.1"/>
<path d="M257.0 316.5h5M259.5 314.0v5" stroke="#58ffa7"/>
<path d="M222.0 310.5h5M224.5 308.0v5" stroke="#00edff"/>
<circle cx="509.4" cy="325.0" r="1.4" stroke="#e0ff1f" stroke-width="1.1"/>
<circle cx="386.8" cy="294.8" r="1.4" stroke="#acff54" stroke-width="1.1"/>
<path d="M220.0 319.5h5M222.5 317.0v5" stroke="#3affc5"/>
<path d="M221.0 337.5h5M223.5 335.0v5" stroke="#0bfff4"/>
<circle cx="379.4" cy="322.2" r="1.4" stroke="#adff53" stroke-width="1.1"/>
<circle cx="423.0" cy="299.5" r="1.4" stroke="#acff54" stroke-width="1.1"/>
<path d="M262.0 334.5h5M264.5 332.0v5" stroke="#0bfff4"/>
<circle cx="347.2" cy="317.3" r="1.4" stroke="#8bff75" stroke-width="1.1"/>
<path d="M239.0 321.5h5M241.5 319.0v5" stroke="#2effd1"/>
<circle cx="475.5" cy="313.5" r="1.4" stroke="#9aff66" stroke-width="1.1"/>
<circle cx="480.6" cy="335.6" r="1.4" stroke="#ccff34" stroke-width="1.1"/>
<circle cx="354.8" cy="318.7" r="1.4" stroke="#9fff61" stroke-width="1.1"/>
<path d="M189.0 311.5h5M191.5 309.0v5" stroke="#5dffa3"/>
<circle cx="470.0" cy="299.2" r="1.4" stroke="#f5ff0a" stroke-width="1.1"/>
<circle cx="535.6" cy="312.7" r="1.4" stroke="#fff000" stroke-width="1.1"/>
<circle cx="435.6" cy="333.6" r="1.4" stroke="#c0ff3f" stroke-width="1.1"/>
<circle cx="353.1" cy="320.8" r="1.4" stroke="#8eff72" stroke-width="1.1"/>
<path d="M317.0 315.5h5M319.5 313.0v5" stroke="#4effb1"/>
<path d="M176.0 328.5h5M178.5 326.0v5" stroke="#0cfff3"/>
<circle cx="410.8" cy="347.0" r="1.4" stroke="#f5ff0a" stroke-width="1.1"/>
<path d="M82.0 309.5h5M84.5 307.0v5" stroke="#3bffc5"/>
<circle cx="475.5" cy="349.6" r="1.4" stroke="#f5ff0a" stroke-width="1.1"/>
<path d="M153.0 308.5h5M155.5 306.0v5" stroke="#61ff9f"/>
<path d="M144.0 310.5h5M146.5 308.0v5" stroke="#2dffd3"/>
<path d="M252.0 317.5h5M254.5 315.0v5" stroke="#68ff98"/>
<circle cx="453.8" cy="332.2" r="1.4" stroke="#95ff6a" stroke-width="1.1"/>
<circle cx="468.3" cy="324.8" r="1.4" stroke="#8aff76" stroke-width="1.1"/>
<circle cx="512.1" cy="332.4" r="1.4" stroke="#fbff04" stroke-width="1.1"/>
<circle cx="365.0" cy="347.0" r="1.4" stroke="#acff54" stroke-width="1.1"/>
<path d="M294.0 312.5h5M296.5 310.0v5" stroke="#6bff95"/>
<circle cx="357.9" cy="322.8" r="1.4" stroke="#8aff76" stroke-width="1.1"/>
<circle cx="397.0" cy="347.5" r="1.4" stroke="#f5ff0a" stroke-width="1.1"/>
<circle cx="513.0" cy="325.1" r="1.4" stroke="#f8ff07" stroke-width="1.1"/>
<path d="M108.0 308.5h5M110.5 306.0v5" stroke="#00fdff"/>
<circle cx="392.9" cy="316.3" r="1.4" stroke="#adff53" stroke-width="1.1"/>
<path d="M197.0 320.5h5M199.5 318.0v5" stroke="#4bffb5"/>
<path d="M166.0 320.5h5M168.5 318.0v5" stroke="#5effa2"/>
<path d="M231.0 312.5h5M233.5 310.0v5" stroke="#36ffca"/>
<circle cx="242.9" cy="328.1" r="1.4" stroke="#83ff7d" stroke-width="1.1"/>
<circle cx="506.0" cy="309.8" r="1.4" stroke="#c8ff38" stroke-width="1.1"/>
<path d="M300.0 311.5h5M302.5 309.0v5" stroke="#4bffb4"/>
<circle cx="470.4" cy="324.1" r="1.4" stroke="#a1ff5f" stroke-width="1.1"/>
<circle cx="431.3" cy="310.6" r="1.4" stroke="#b4ff4c" stroke-width="1.1"/>
<circle cx="431.8" cy="316.5" r="1.4" stroke="#adff52" stroke-width="1.1"/>
<circle cx="493.3" cy="335.9" r="1.4" stroke="#fffc00" stroke-width="1.1"/>
<circle cx="506.7" cy="354.8" r="1.4" stroke="#f5ff0a" stroke-width="1.1"/>
<path d="M98.0 345.5h5M100.5 343.0v5" stroke="#63ff9d"/>
<path d="M130.0 323.5h5M132.5 321.0v5" stroke="#1bffe4"/>
<path d="M230.0 313.5h5M232.5 311.0v5" stroke="#31ffce"/>
<circle cx="501.2" cy="333.7" r="1.4" stroke="#dcff24" stroke-width="1.1"/>
<path d="M89.0 318.5h5M91.5 316.0v5" stroke="#14ffeb"/>
<path d="M425.0 316.5h5M427.5 314.0v5" stroke="#7cff84"/>
<path d="M258.0 319.5h5M260.5 317.0v5" stroke="#55ffab"/>
<circle cx="307.5" cy="326.8" r="1.4" stroke="#8bff75" stroke-width="1.1"/>
<circle cx="459.4" cy="323.1" r="1.4" stroke="#c8ff37" stroke-width="1.1"/>
<path d="M298.0 323.5h5M300.5 321.0v5" stroke="#59ffa6"/>
<circle cx="509.8" cy="311.6" r="1.4" stroke="#baff45" stroke-width="1.1"/>
<path d="M247.0 315.5h5M249.5 313.0v5" stroke="#80ff80"/>
<circle cx="482.6" cy="318.1" r="1.4" stroke="#e2ff1e" stroke-width="1.1"/>
<path d="M181.0 310.5h5M183.5 308.0v5" stroke="#49ffb7"/>
<circle cx="258.4" cy="312.5" r="1.4" stroke="#8bff75" stroke-width="1.1"/>
<circle cx="498.7" cy="322.4" r="1.4" stroke="#b9ff47" stroke-width="1.1"/>
<circle cx="513.4" cy="315.5" r="1.4" stroke="#fffc00" stroke-width="1.1"/>
<circle cx="338.7" cy="317.3" r="1.4" stroke="#97ff69" stroke-width="1.1"/>
<path d="M131.0 332.5h5M133.5 330.0v5" stroke="#1affe5"/>
<path d="M278.0 320.5h5M280.5 318.0v5" stroke="#45ffbb"/>
<circle cx="481.9" cy="305.8" r="1.4" stroke="#9dff63" stroke-width="1.1"/>
<path d="M243.0 350.5h5M245.5 348.0v5" stroke="#0bfff4"/>
<path d="M337.0 324.5h5M339.5 322.0v5" stroke="#7eff82"/>
<circle cx="368.2" cy="309.0" r="1.4" stroke="#aeff52" stroke-width="1.1"/>
<circle cx="508.2" cy="317.4" r="1.4" stroke="#ebff14" stroke-width="1.1"/>
<path d="M127.0 310.5h5M129.5 308.0v5" stroke="#20ffe0"/>
<circle cx="533.6" cy="327.5" r="1.4" stroke="#bcff44" stroke-width="1.1"/>
<circle cx="443.7" cy="337.1" r="1.4" stroke="#abff55" stroke-width="1.1"/>
<circle cx="384.5" cy="323.5" r="1.4" stroke="#9cff64" stroke-width="1.1"/>
<path d="M173.0 314.5h5M175.5 312.0v5" stroke="#14ffeb"/>
<path d="M148.0 335.5h5M150.5 333.0v5" stroke="#63ff9d"/>
<circle cx="402.5" cy="340.8" r="1.4" stroke="#f5ff0a" stroke-width="1.1"/>
<path d="M329.0 331.5h5M331.5 329.0v5" stroke="#72ff8e"/>
<path d="M346.0 331.5h5M348.5 329.0v5" stroke="#7aff86"/>
<path d="M282.0 321.5h5M284.5 319.0v5" stroke="#40ffbf"/>
<path d="M276.0 322.5h5M278.5 320.0v5" stroke="#33ffcc"/>
<path d="M123.0 306.5h5M125.5 304.0v5" stroke="#3effc2"/>
<path d="M225.0 316.5h5M227.5 314.0v5" stroke="#5bffa5"/>
<circle cx="391.2" cy="313.8" r="1.4" stroke="#86ff7a" stroke-width="1.1"/>
<circle cx="488.9" cy="316.7" r="1.4" stroke="#caff36" stroke-width="1.1"/>
<circle cx="268.2" cy="324.2" r="1.4" stroke="#95ff6a" stroke-width="1.1"/>
<circle cx="528.8" cy="328.3" r="1.4" stroke="#b6ff4a" stroke-width="1.1"/>
<circle cx="436.0" cy="325.6" r="1.4" stroke="#e4ff1b" stroke-width="1.1"/>
<circle cx="409.6" cy="319.7" r="1.4" stroke="#9cff63" stroke-width="1.1"/>
<path d="M88.0 346.5h5M90.5 344.0v5" stroke="#0bfff4"/>
<circle cx="417.8" cy="315.6" r="1.4" stroke="#aeff52" stroke-width="1.1"/>
<circle cx="451.4" cy="312.0" r="1.4" stroke="#b7ff48" stroke-width="1.1"/>
<path d="M205.0 329.5h5M207.5 327.0v5" stroke="#69ff97"/>
<circle cx="431.9" cy="323.1" r="1.4" stroke="#86ff7a" stroke-width="1.1"/>
<path d="M204.0 295.5h5M206.5 293.0v5" stroke="#63ff9d"/>
<path d="M148.0 312.5h5M150.5 310.0v5" stroke="#3effc2"/>
<circle cx="319.9" cy="321.2" r="1.4" stroke="#81ff7f" stroke-width="1.1"/>
<circle cx="111.3" cy="322.5" r="1.4" stroke="#a1ff5f" stroke-width="1.1"/>
<circle cx="517.0" cy="351.0" r="1.4" stroke="#f5ff0a" stroke-width="1.1"/>
<circle cx="434.7" cy="327.7" r="1.4" stroke="#8cff73" stroke-width="1.1"/>
<path d="M144.0 330.5h5M146.5 328.0v5" stroke="#48ffb7"/>
<circle cx="460.8" cy="319.4" r="1.4" stroke="#93ff6d" stroke-width="1.1"/>
<path d="M241.0 335.5h5M243.5 333.0v5" stroke="#63ff9d"/>
<path d="M135.0 308.5h5M137.5 306.0v5" stroke="#00e9ff"/>
<path d="M272.0 323.5h5M274.5 321.0v5" stroke="#42ffbd"/>
<circle cx="438.0" cy="277.0" r="1.4" stroke="#acff54" stroke-width="1.1"/>
<circle cx="464.2" cy="329.2" r="1.4" stroke="#a7ff59" stroke-width="1.1"/>
<path d="M115.0 312.5h5M117.5 310.0v5" stroke="#1bffe4"/>
<circle cx="467.2" cy="320.0" r="1.4" stroke="#a7ff59" stroke-width="1.1"/>
<path d="M118.0 312.5h5M120.5 310.0v5" stroke="#5dffa3"/>
<path d="M270.0 287.5h5M272.5 285.0v5" stroke="#63ff9d"/>
<path d="M178.0 313.5h5M180.5 311.0v5" stroke="#2cffd3"/>
<path d="M469.0 349.5h5M471.5 347.0v5" stroke="#63ff9d"/>
<circle cx="448.4" cy="311.2" r="1.4" stroke="#90ff70" stroke-width="1.1"/>
<circle cx="453.6" cy="319.3" r="1.4" stroke="#a5ff5b" stroke-width="1.1"/>
<circle cx="445.7" cy="324.9" r="1.4" stroke="#a2ff5e" stroke-width="1.1"/>
<path d="M471.0 351.5h5M473.5 349.0v5" stroke="#63ff9d"/>
<path d="M262.0 318.5h5M264.5 316.0v5" stroke="#50ffaf"/>
<circle cx="436.4" cy="334.4" r="1.4" stroke="#c0ff3f" stroke-width="1.1"/>
<path d="M264.0 348.5h5M266.5 346.0v5" stroke="#63ff9d"/>
<circle cx="537.2" cy="325.5" r="1.4" stroke="#edff12" stroke-width="1.1"/>
<circle cx="420.5" cy="299.2" r="1.4" stroke="#acff54" stroke-width="1.1"/>
<path d="M153.0 309.5h5M155.5 307.0v5" stroke="#50ffaf"/>
<path d="M133.0 325.5h5M135.5 323.0v5" stroke="#06fff9"/>
<path d="M259.0 318.5h5M261.5 316.0v5" stroke="#78ff88"/>
<path d="M345.0 332.5h5M347.5 330.0v5" stroke="#51ffaf"/>
<circle cx="275.2" cy="328.7" r="1.4" stroke="#95ff6b" stroke-width="1.1"/>
<path d="M356.0 316.5h5M358.5 314.0v5" stroke="#70ff90"/>
<circle cx="475.2" cy="305.9" r="1.4" stroke="#bdff42" stroke-width="1.1"/>
<path d="M243.0 328.5h5M245.5 326.0v5" stroke="#2fffd0"/>
<circle cx="462.7" cy="311.6" r="1.4" stroke="#bdff43" stroke-width="1.1"/>
<circle cx="481.8" cy="299.5" r="1.4" stroke="#acff54" stroke-width="1.1"/>
<path d="M470.0 329.5h5M472.5 327.0v5" stroke="#75ff8b"/>
<path d="M185.0 317.5h5M187.5 315.0v5" stroke="#14ffeb"/>
<path d="M452.0 333.5h5M454.5 331.0v5" stroke="#77ff89"/>
<circle cx="444.5" cy="332.7" r="1.4" stroke="#9aff66" stroke-width="1.1"/>
<circle cx="380.5" cy="324.4" r="1.4" stroke="#8dff73" stroke-width="1.1"/>
<circle cx="473.4" cy="322.0" r="1.4" stroke="#bdff43" stroke-width="1.1"/>
<path d="M203.0 302.5h5M205.5 300.0v5" stroke="#04fffb"/>
<circle cx="416.8" cy="297.0" r="1.4" stroke="#f5ff0a" stroke-width="1.1"/>
<path d="M231.0 318.5h5M233.5 316.0v5" stroke="#2effd2"/>
<circle cx="471.2" cy="315.5" r="1.4" stroke="#b9ff47" stroke-width="1.1"/>
<path d="M391.0 335.5h5M393.5 333.0v5" stroke="#5fffa0"/>
<path d="M238.0 301.5h5M240.5 299.0v5" stroke="#73ff8d"/>
<circle cx="438.9" cy="325.8" r="1.4" stroke="#a8ff58" stroke-width="1.1"/>
<path d="M76.0 324.5h5M78.5 322.0v5" stroke="#00d6ff"/>
<circle cx="523.3" cy="333.8" r="1.4" stroke="#b4ff4b" stroke-width="1.1"/>
<circle cx="525.8" cy="317.6" r="1.4" stroke="#dfff20" stroke-width="1.1"/>
<circle cx="436.4" cy="309.7" r="1.4" stroke="#c1ff3f" stroke-width="1.1"/>
<path d="M295.0 303.5h5M297.5 301.0v5" stroke="#6eff92"/>
<path d="M249.0 330.5h5M251.5 328.0v5" stroke="#13ffec"/>
<path d="M238.0 324.5h5M240.5 322.0v5" stroke="#6dff93"/>
<circle cx="423.6" cy="333.2" r="1.4" stroke="#b0ff4f" stroke-width="1.1"/>
<path d="M136.0 313.5h5M138.5 311.0v5" stroke="#77ff89"/>
<circle cx="452.3" cy="320.4" r="1.4" stroke="#e5ff1a" stroke-width="1.1"/>
<path d="M75.0 346.5h5M77.5 344.0v5" stroke="#00d2ff"/>
<circle cx="498.0" cy="318.7" r="1.4" stroke="#cdff33" stroke-width="1.1"/>
<circle cx="461.0" cy="318.8" r="1.4" stroke="#c6ff3a" stroke-width="1.1"/>
<circle cx="419.8" cy="315.7" r="1.4" stroke="#afff51" stroke-width="1.1"/>
<path d="M102.0 287.5h5M104.5 285.0v5" stroke="#63ff9d"/>
<path d="M253.0 295.5h5M255.5 293.0v5" stroke="#0bfff4"/>
<path d="M345.0 325.5h5M347.5 323.0v5" stroke="#68ff98"/>
<path d="M145.0 290.5h5M147.5 288.0v5" stroke="#63ff9d"/>
<path d="M325.0 298.5h5M327.5 296.0v5" stroke="#63ff9d"/>
<circle cx="277.8" cy="315.6" r="1.4" stroke="#9eff62" stroke-width="1.1"/>
<circle cx="427.7" cy="312.1" r="1.4" stroke="#8dff73" stroke-width="1.1"/>
<circle cx="458.9" cy="316.1" r="1.4" stroke="#94ff6c" stroke-width="1.1"/>
<circle cx="441.0" cy="329.6" r="1.4" stroke="#a6ff5a" stroke-width="1.1"/>
<path d="M142.0 317.5h5M144.5 315.0v5" stroke="#04fffb"/>
<path d="M371.0 317.5h5M373.5 315.0v5" stroke="#4dffb3"/>
<path d="M259.0 321.5h5M261.5 319.0v5" stroke="#1fffe0"/>
<path d="M216.0 310.5h5M218.5 308.0v5" stroke="#3cffc3"/>
<circle cx="403.0" cy="328.4" r="1.4" stroke="#94ff6c" stroke-width="1.1"/>
<path d="M83.0 342.5h5M85.5 340.0v5" stroke="#0bfff4"/>
<path d="M210.0 322.5h5M212.5 320.0v5" stroke="#22ffdd"/>
<circle cx="462.4" cy="330.5" r="1.4" stroke="#a3ff5d" stroke-width="1.1"/>
<path d="M136.0 310.5h5M138.5 308.0v5" stroke="#4fffb1"/>
<circle cx="337.6" cy="319.4" r="1.4" stroke="#a7ff59" stroke-width="1.1"/>
<path d="M309.0 335.5h5M311.5 333.0v5" stroke="#71ff8f"/>
<circle cx="460.5" cy="325.4" r="1.4" stroke="#9bff65" stroke-width="1.1"/>
<circle cx="360.8" cy="322.8" r="1.4" stroke="#9cff64" stroke-width="1.1"/>
<path d="M334.0 312.5h5M336.5 310.0v5" stroke="#5effa2"/>
<circle cx="511.0" cy="318.4" r="1.4" stroke="#ffe800" stroke-width="1.1"/>
<circle cx="506.7" cy="337.5" r="1.4" stroke="#c0ff40" stroke-width="1.1"/>
<path d="M165.0 321.5h5M167.5 319.0v5" stroke="#3cffc4"/>
<path d="M256.0 324.5h5M258.5 322.0v5" stroke="#66ff9a"/>
<path d="M356.0 332.5h5M358.5 330.0v5" stroke="#7cff84"/>
<path d="M203.0 316.5h5M205.5 314.0v5" stroke="#27ffd8"/>
<circle cx="446.0" cy="326.1" r="1.4" stroke="#94ff6c" stroke-width="1.1"/>
<circle cx="440.0" cy="352.8" r="1.4" stroke="#acff54" stroke-width="1.1"/>
<path d="M72.0 318.5h5M74.5 316.0v5" stroke="#21ffde"/>
<circle cx="436.1" cy="331.2" r="1.4" stroke="#adff53" stroke-width="1.1"/>
<circle cx="461.7" cy="320.6" r="1.4" stroke="#86ff7a" stroke-width="1.1"/>
<circle cx="394.4" cy="323.9" r="1.4" stroke="#a9ff57" stroke-width="1.1"/>
<circle cx="474.2" cy="335.0" r="1.4" stroke="#97ff69" stroke-width="1.1"/>
<path d="M109.0 322.5h5M111.5 320.0v5" stroke="#19ffe6"/>
<circle cx="500.6" cy="301.5" r="1.4" stroke="#9aff66" stroke-width="1.1"/>
<path d="M77.0 305.5h5M79.5 303.0v5" stroke="#3fffc1"/>
<circle cx="365.3" cy="331.0" r="1.4" stroke="#97ff69" stroke-width="1.1"/>
<circle cx="535.7" cy="345.8" r="1.4" stroke="#f5ff0a" stroke-width="1.1"/>
<circle cx="430.1" cy="328.8" r="1.4" stroke="#8aff76" stroke-width="1.1"/>
<circle cx="445.5" cy="295.5" r="1.4" stroke="#acff54" stroke-width="1.1"/>
<circle cx="338.4" cy="327.6" r="1.4" stroke="#a1ff5f" stroke-width="1.1"/>
<circle cx="534.8" cy="308.8" r="1.4" stroke="#e6ff19" stroke-width="1.1"/>
<circle cx="334.5" cy="310.7" r="1.4" stroke="#89ff77" stroke-width="1.1"/>
<path d="M175.0 309.5h5M177.5 307.0v5" stroke="#5cffa4"/>
<circle cx="423.4" cy="307.3" r="1.4" stroke="#aaff56" stroke-width="1.1"/>
<circle cx="448.9" cy="331.2" r="1.4" stroke="#bcff43" stroke-width="1.1"/>
<path d="M145.0 311.5h5M147.5 309.0v5" stroke="#0afff5"/>
<circle cx="472.9" cy="327.4" r="1.4" stroke="#b9ff47" stroke-width="1.1"/>
<circle cx="437.7" cy="316.5" r="1.4" stroke="#98ff68" stroke-width="1.1"/>
<circle cx="416.9" cy="319.1" r="1.4" stroke="#c3ff3d" stroke-width="1.1"/>
<path d="M271.0 305.5h5M273.5 303.0v5" stroke="#46ffba"/>
<circle cx="401.4" cy="335.7" r="1.4" stroke="#f3ff0c" stroke-width="1.1"/>
<circle cx="529.5" cy="328.8" r="1.4" stroke="#e4ff1c" stroke-width="1.1"/>
<path d="M433.0 325.5h5M435.5 323.0v5" stroke="#57ffa9"/>
<circle cx="349.7" cy="318.0" r="1.4" stroke="#a2ff5d" stroke-width="1.1"/>
<circle cx="207.7" cy="316.3" r="1.4" stroke="#81ff7f" stroke-width="1.1"/>
<circle cx="504.1" cy="315.5" r="1.4" stroke="#c7ff38" stroke-width="1.1"/>
<path d="M290.0 323.5h5M292.5 321.0v5" stroke="#67ff99"/>
<path d="M141.0 304.5h5M143.5 302.0v5" stroke="#6fff91"/>
<path d="M206.0 304.5h5M208.5 302.0v5" stroke="#74ff8c"/>
<path d="M172.0 323.5h5M174.5 321.0v5" stroke="#43ffbc"/>
<path d="M218.0 315.5h5M220.5 313.0v5" stroke="#44ffbb"/>
<circle cx="368.7" cy="324.7" r="1.4" stroke="#d9ff27" stroke-width="1.1"/>
<circle cx="494.1" cy="325.0" r="1.4" stroke="#b0ff4f" stroke-width="1.1"/>
<circle cx="545.2" cy="322.0" r="1.4" stroke="#fff700" stroke-width="1.1"/>
<circle cx="517.6" cy="311.8" r="1.4" stroke="#e3ff1c" stroke-width="1.1"/>
<path d="M464.0 368.5h5M466.5 366.0v5" stroke="#63ff9d"/>
<circle cx="415.7" cy="330.9" r="1.4" stroke="#c5ff3b" stroke-width="1.1"/>
<circle cx="279.5" cy="322.8" r="1.4" stroke="#acff54" stroke-width="1.1"/>
<path d="M108.0 322.5h5M110.5 320.0v5" stroke="#24ffdc"/>
<path d="M233.0 317.5h5M235.5 315.0v5" stroke="#2dffd2"/>
<path d="M202.0 327.5h5M204.5 325.0v5" stroke="#54ffab"/>
<path d="M81.0 319.5h5M83.5 317.0v5" stroke="#00f9ff"/>
<circle cx="339.0" cy="324.3" r="1.4" stroke="#8aff76" stroke-width="1.1"/>
<circle cx="445.4" cy="322.3" r="1.4" stroke="#d5ff2a" stroke-width="1.1"/>
<circle cx="239.5" cy="352.8" r="1.4" stroke="#acff54" stroke-width="1.1"/>
<path d="M279.0 314.5h5M281.5 312.0v5" stroke="#65ff9a"/>
<circle cx="442.2" cy="328.2" r="1.4" stroke="#beff41" stroke-width="1.1"/>
<circle cx="466.5" cy="334.0" r="1.4" stroke="#88ff78" stroke-width="1.1"/>
<circle cx="460.6" cy="320.6" r="1.4" stroke="#c2ff3d" stroke-width="1.1"/>
<circle cx="453.7" cy="319.8" r="1.4" stroke="#90ff70" stroke-width="1.1"/>
<circle cx="422.6" cy="301.7" r="1.4" stroke="#95ff6a" stroke-width="1.1"/>
<path d="M177.0 321.5h5M179.5 319.0v5" stroke="#4affb6"/>
<path d="M244.0 309.5h5M246.5 307.0v5" stroke="#77ff89"/>
<path d="M382.0 322.5h5M384.5 320.0v5" stroke="#78ff87"/>
<path d="M226.0 319.5h5M228.5 317.0v5" stroke="#76ff8a"/>
<path d="M185.0 327.5h5M187.5 325.0v5" stroke="#3effc2"/>
<circle cx="436.4" cy="328.1" r="1.4" stroke="#8fff71" stroke-width="1.1"/>
<circle cx="448.7" cy="374.0" r="1.4" stroke="#f5ff0a" stroke-width="1.1"/>
<path d="M197.0 310.5h5M199.5 308.0v5" stroke="#29ffd6"/>
<path d="M288.0 312.5h5M290.5 310.0v5" stroke="#5dffa3"/>
<circle cx="486.0" cy="303.8" r="1.4" stroke="#ddff22" stroke-width="1.1"/>
<path d="M412.0 316.5h5M414.5 314.0v5" stroke="#74ff8c"/>
</g>
<text class="cb" x="281.5" y="57">North</text>
<text class="cb" x="281.5" y="578">South</text>
<text class="cb" x="15.5" y="318">West</text>
<text class="cb" x="552.2" y="318">East</text>
<text class="m" x="594" y="71">Num of Sources</text>
<text class="m" x="791.2" y="71" text-anchor="end">1097</text>
<text class="m" x="594" y="85">Min Freq, kHz</text>
<text class="m" x="791.2" y="85" text-anchor="end">3780</text>
<text class="m" x="594" y="99">Max Freq, kHz</text>
<text class="m" x="791.2" y="99" text-anchor="end">5320</text>
<text class="m" x="594" y="113">Min Range, km</text>
<text class="m" x="791.2" y="113" text-anchor="end">270</text>
<text class="m" x="594" y="127">Max Range, km</text>
<text class="m" x="791.2" y="127" text-anchor="end">400</text>
<text class="m" x="594" y="141">Max Amp, dB</text>
<text class="m" x="791.2" y="141" text-anchor="end">63</text>
<text class="m" x="594" y="155">Max SNR Amp, dB</text>
<text class="m" x="791.2" y="155" text-anchor="end">40</text>
<text class="m" x="594" y="169">Min SNR Amp, dB</text>
<text class="m" x="791.2" y="169" text-anchor="end">11</text>
<text class="m" x="594" y="183">Avg SNR Amp, dB</text>
<text class="m" x="791.2" y="183" text-anchor="end">20</text>
<text class="m" x="594" y="197">Max RMS Err, deg</text>
<text class="m" x="791.2" y="197" text-anchor="end">42.0</text>
<text class="m" x="594" y="211">Min RMS Err, deg</text>
<text class="m" x="791.2" y="211" text-anchor="end">0.0</text>
<text class="m" x="594" y="225">Avg RMS Err, deg</text>
<text class="m" x="791.2" y="225" text-anchor="end">7.6</text>
<text class="m" x="594" y="239">Doppler Res, Hz</text>
<text class="m" x="791.2" y="239" text-anchor="end">0.0723</text>
<text class="m" x="594" y="253">CIT, sec</text>
<text class="m" x="791.2" y="253" text-anchor="end">13.84</text>
<text class="m" x="594" y="267">Num of CITs</text>
<text class="m" x="791.2" y="267" text-anchor="end">2</text>
<text class="m" x="594" y="281">Polarization</text>
<text class="m" x="791.2" y="281" text-anchor="end">O-mode</text>
<text class="m" x="594" y="295">Center of Sources, deg:</text>
<text class="m" x="594" y="309">          Zenith</text>
<text class="m" x="791.2" y="309" text-anchor="end">6.8</text>
<text class="m" x="594" y="323">          Azimuth</text>
<text class="m" x="791.2" y="323" text-anchor="end">258</text>
<text x="720" y="322.5" style="font-family:'DejaVu Sans',sans-serif;font-size:8px" fill="#222">↶</text>
<rect x="593" y="341" width="15.5" height="241.5" fill="url(#cbar)"/>
<g stroke="#000" stroke-width="1" shape-rendering="crispEdges"><line x1="608.5" y1="341" x2="608.5" y2="583"/>
<line x1="608" y1="341.5" x2="615" y2="341.5"/>
<line x1="608" y1="357.5" x2="615" y2="357.5"/>
<line x1="608" y1="383.5" x2="615" y2="383.5"/>
<line x1="608" y1="409.5" x2="615" y2="409.5"/>
<line x1="608" y1="435.5" x2="615" y2="435.5"/>
<line x1="608" y1="461.5" x2="615" y2="461.5"/>
<line x1="608" y1="488.5" x2="615" y2="488.5"/>
<line x1="608" y1="514.5" x2="615" y2="514.5"/>
<line x1="608" y1="540.5" x2="615" y2="540.5"/>
<line x1="608" y1="566.5" x2="615" y2="566.5"/>
<line x1="608" y1="582.5" x2="615" y2="582.5"/>
</g>
<text class="sb" x="618" y="345.1" style="letter-spacing:0.35px">4.6</text>
<text class="sb" x="618" y="387.1" style="letter-spacing:0.35px">3.0</text>
<text class="sb" x="618" y="413.1" style="letter-spacing:0.35px">2.0</text>
<text class="sb" x="618" y="439.1" style="letter-spacing:0.35px">1.0</text>
<text class="sb" x="618" y="465.1" style="letter-spacing:0.35px">0</text>
<text class="sb" x="618" y="492.1" style="letter-spacing:0.35px">-1.0</text>
<text class="sb" x="618" y="518.1" style="letter-spacing:0.35px">-2.0</text>
<text class="sb" x="618" y="544.1" style="letter-spacing:0.35px">-3.0</text>
<text class="sb" x="618" y="586.1" style="letter-spacing:0.35px">-4.6</text>
<text class="sb" transform="translate(656.8,492.3) rotate(-90)" style="font-size:9px;letter-spacing:-0.4px">Doppler, Hz</text>
<path d="M669 402.5h8M673 398.5v8" stroke="#0000ee" stroke-width="1" fill="none" shape-rendering="crispEdges"/>
<text class="sb" x="682.5" y="406" style="fill:#0000ee">Positive</text>
<circle cx="673" cy="523" r="2.6" stroke="#ee0000" stroke-width="1" fill="none"/>
<text class="sb" x="682.5" y="526" style="fill:#ee0000">Negative</text>
<text class="s" x="654.3" y="592.6" style="font-size:9px;letter-spacing:0.2px">ShowSkymap v 1.0</text>
<text class="s" x="753.3" y="592.6" style="font-size:9px;letter-spacing:0.2px">SD v 4.2</text>
<text class="mi" x="12" y="572">V</text><text class="m" x="19.3" y="575.3" style="font-size:10.5px">h</text><text class="m" x="33" y="572">=</text><text class="mi" x="45.5" y="572">83</text><text class="m" x="68" y="572">±</text><text class="mi" x="82" y="572">18</text><text class="m" x="103" y="572">m/s</text>
<text class="mi" x="12" y="592">Compass coordinates</text>
<text class="mi" x="473" y="572">V</text><text class="m" x="481.3" y="575.8" style="font-weight:bold;font-size:9.5px">z</text><text class="m" x="494" y="572">=</text><text class="mi" x="508" y="572">-9</text><text class="m" x="529" y="572">±</text><text class="mi" x="543" y="572">3</text><text class="m" x="558" y="572">m/s</text>
<text class="mi" x="419" y="592">Zenith: max 40</text><text class="m" x="520" y="592.8" text-anchor="middle" style="font-size:13px;letter-spacing:0">°</text><text class="mi" x="535" y="592">step 5</text><text class="m" x="579.2" y="592.8" text-anchor="middle" style="font-size:13px;letter-spacing:0">°</text>
</svg></body></html>
